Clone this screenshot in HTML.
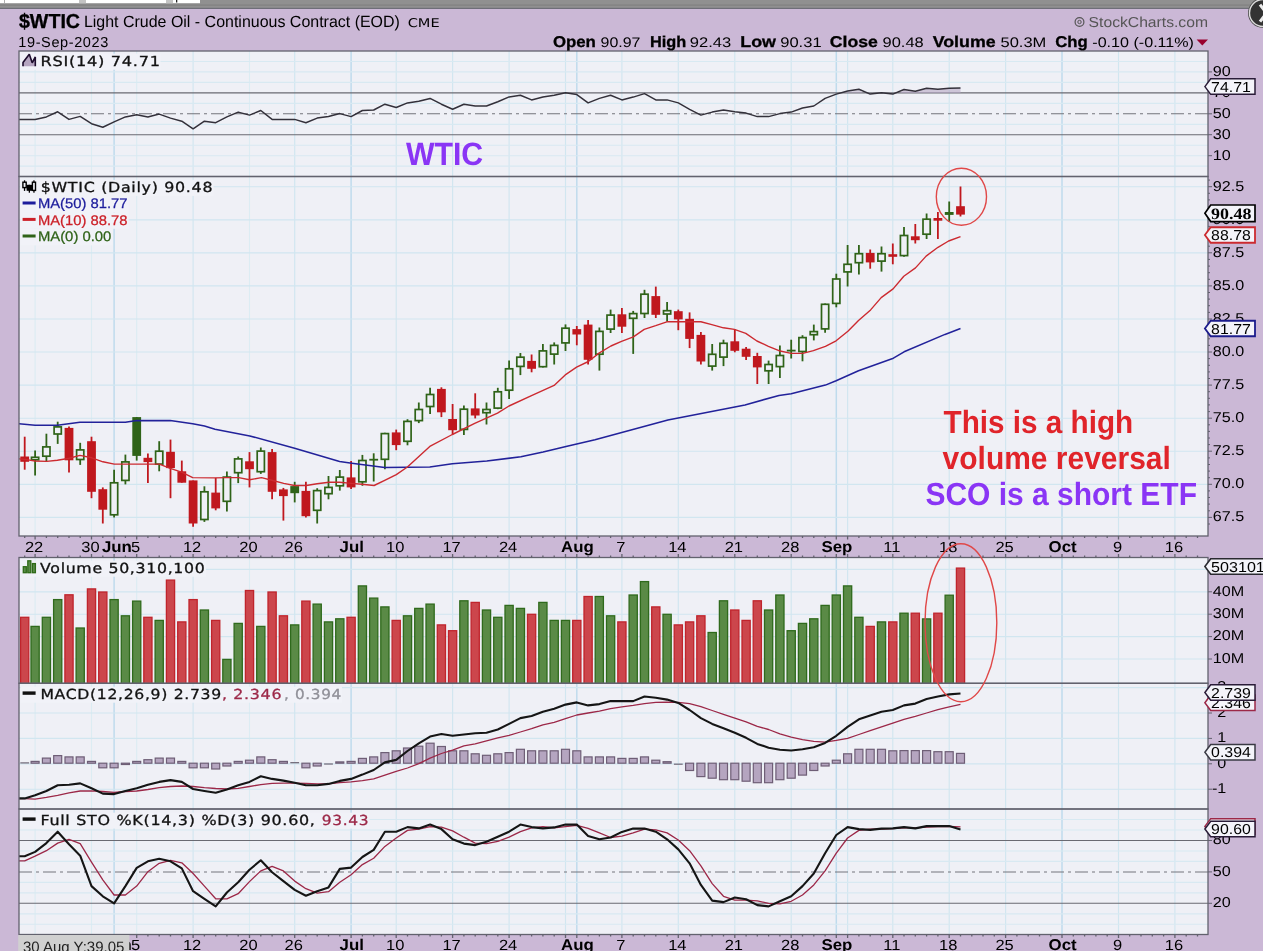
<!DOCTYPE html>
<html><head><meta charset="utf-8"><title>$WTIC Light Crude Oil - Continuous Contract (EOD)</title>
<style>html,body{margin:0;padding:0;background:#cbb8d6;overflow:hidden}svg text{text-rendering:geometricPrecision}</style></head>
<body>
<svg width="1263" height="951" viewBox="0 0 1263 951" style="display:block">
<rect x="0" y="0" width="1263" height="951" fill="#cbb8d6"/>
<rect x="0" y="0" width="1263" height="8.6" fill="#909090"/>
<rect x="0" y="4.6" width="1263" height="1" fill="#7e7e7e"/>
<rect x="0" y="7.8" width="1263" height="1.2" fill="#6e6e78"/>
<rect x="0" y="0" width="200" height="3.2" fill="#ffffff"/>
<rect x="4" y="0" width="1" height="3.2" fill="#b0b0b0"/>
<rect x="79" y="0" width="7" height="3.2" fill="#c4c4c4"/>
<rect x="166" y="0" width="7" height="3.2" fill="#c4c4c4"/>
<rect x="176" y="0" width="1.3" height="2.5" fill="#222"/>
<rect x="19.0" y="51.0" width="1189.0" height="485.0" fill="#eff0f6"/>
<rect x="19.0" y="557.5" width="1189.0" height="377.0" fill="#eff0f6"/>
<defs>
<clipPath id="cR"><rect x="19.0" y="51.0" width="1189.0" height="125.5"/></clipPath>
<clipPath id="cP"><rect x="19.0" y="176.5" width="1189.0" height="359.5"/></clipPath>
<clipPath id="cV"><rect x="19.0" y="557.5" width="1189.0" height="125.79999999999995"/></clipPath>
<clipPath id="cM"><rect x="19.0" y="683.3" width="1189.0" height="125.70000000000005"/></clipPath>
<clipPath id="cS"><rect x="19.0" y="809.0" width="1189.0" height="125.5"/></clipPath>
</defs>
<g><line x1="35.1" y1="51.0" x2="35.1" y2="536.0" stroke="#dcecf3" stroke-width="1.15"/><line x1="35.1" y1="557.5" x2="35.1" y2="934.5" stroke="#dcecf3" stroke-width="1.15"/><line x1="91.5" y1="51.0" x2="91.5" y2="536.0" stroke="#dcecf3" stroke-width="1.15"/><line x1="91.5" y1="557.5" x2="91.5" y2="934.5" stroke="#dcecf3" stroke-width="1.15"/><line x1="114.1" y1="51.0" x2="114.1" y2="536.0" stroke="#bfdbed" stroke-width="1.5"/><line x1="114.1" y1="557.5" x2="114.1" y2="934.5" stroke="#bfdbed" stroke-width="1.5"/><line x1="136.7" y1="51.0" x2="136.7" y2="536.0" stroke="#dcecf3" stroke-width="1.15"/><line x1="136.7" y1="557.5" x2="136.7" y2="934.5" stroke="#dcecf3" stroke-width="1.15"/><line x1="193.1" y1="51.0" x2="193.1" y2="536.0" stroke="#d1e6f0" stroke-width="1.15"/><line x1="193.1" y1="557.5" x2="193.1" y2="934.5" stroke="#d1e6f0" stroke-width="1.15"/><line x1="249.5" y1="51.0" x2="249.5" y2="536.0" stroke="#dcecf3" stroke-width="1.15"/><line x1="249.5" y1="557.5" x2="249.5" y2="934.5" stroke="#dcecf3" stroke-width="1.15"/><line x1="294.7" y1="51.0" x2="294.7" y2="536.0" stroke="#d1e6f0" stroke-width="1.15"/><line x1="294.7" y1="557.5" x2="294.7" y2="934.5" stroke="#d1e6f0" stroke-width="1.15"/><line x1="351.1" y1="51.0" x2="351.1" y2="536.0" stroke="#bfdbed" stroke-width="1.5"/><line x1="351.1" y1="557.5" x2="351.1" y2="934.5" stroke="#bfdbed" stroke-width="1.5"/><line x1="396.2" y1="51.0" x2="396.2" y2="536.0" stroke="#d1e6f0" stroke-width="1.15"/><line x1="396.2" y1="557.5" x2="396.2" y2="934.5" stroke="#d1e6f0" stroke-width="1.15"/><line x1="452.6" y1="51.0" x2="452.6" y2="536.0" stroke="#d1e6f0" stroke-width="1.15"/><line x1="452.6" y1="557.5" x2="452.6" y2="934.5" stroke="#d1e6f0" stroke-width="1.15"/><line x1="509.1" y1="51.0" x2="509.1" y2="536.0" stroke="#d1e6f0" stroke-width="1.15"/><line x1="509.1" y1="557.5" x2="509.1" y2="934.5" stroke="#d1e6f0" stroke-width="1.15"/><line x1="565.5" y1="51.0" x2="565.5" y2="536.0" stroke="#d1e6f0" stroke-width="1.15"/><line x1="565.5" y1="557.5" x2="565.5" y2="934.5" stroke="#d1e6f0" stroke-width="1.15"/><line x1="576.8" y1="51.0" x2="576.8" y2="536.0" stroke="#bfdbed" stroke-width="1.5"/><line x1="576.8" y1="557.5" x2="576.8" y2="934.5" stroke="#bfdbed" stroke-width="1.5"/><line x1="621.9" y1="51.0" x2="621.9" y2="536.0" stroke="#d1e6f0" stroke-width="1.15"/><line x1="621.9" y1="557.5" x2="621.9" y2="934.5" stroke="#d1e6f0" stroke-width="1.15"/><line x1="678.3" y1="51.0" x2="678.3" y2="536.0" stroke="#d1e6f0" stroke-width="1.15"/><line x1="678.3" y1="557.5" x2="678.3" y2="934.5" stroke="#d1e6f0" stroke-width="1.15"/><line x1="734.8" y1="51.0" x2="734.8" y2="536.0" stroke="#d1e6f0" stroke-width="1.15"/><line x1="734.8" y1="557.5" x2="734.8" y2="934.5" stroke="#d1e6f0" stroke-width="1.15"/><line x1="791.2" y1="51.0" x2="791.2" y2="536.0" stroke="#d1e6f0" stroke-width="1.15"/><line x1="791.2" y1="557.5" x2="791.2" y2="934.5" stroke="#d1e6f0" stroke-width="1.15"/><line x1="836.3" y1="51.0" x2="836.3" y2="536.0" stroke="#bfdbed" stroke-width="1.5"/><line x1="836.3" y1="557.5" x2="836.3" y2="934.5" stroke="#bfdbed" stroke-width="1.5"/><line x1="847.6" y1="51.0" x2="847.6" y2="536.0" stroke="#d1e6f0" stroke-width="1.15"/><line x1="847.6" y1="557.5" x2="847.6" y2="934.5" stroke="#d1e6f0" stroke-width="1.15"/><line x1="892.8" y1="51.0" x2="892.8" y2="536.0" stroke="#d1e6f0" stroke-width="1.15"/><line x1="892.8" y1="557.5" x2="892.8" y2="934.5" stroke="#d1e6f0" stroke-width="1.15"/><line x1="949.2" y1="51.0" x2="949.2" y2="536.0" stroke="#d1e6f0" stroke-width="1.15"/><line x1="949.2" y1="557.5" x2="949.2" y2="934.5" stroke="#d1e6f0" stroke-width="1.15"/><line x1="1005.6" y1="51.0" x2="1005.6" y2="536.0" stroke="#d1e6f0" stroke-width="1.15"/><line x1="1005.6" y1="557.5" x2="1005.6" y2="934.5" stroke="#d1e6f0" stroke-width="1.15"/><line x1="1062.0" y1="51.0" x2="1062.0" y2="536.0" stroke="#bfdbed" stroke-width="1.5"/><line x1="1062.0" y1="557.5" x2="1062.0" y2="934.5" stroke="#bfdbed" stroke-width="1.5"/><line x1="1118.5" y1="51.0" x2="1118.5" y2="536.0" stroke="#d1e6f0" stroke-width="1.15"/><line x1="1118.5" y1="557.5" x2="1118.5" y2="934.5" stroke="#d1e6f0" stroke-width="1.15"/><line x1="1174.9" y1="51.0" x2="1174.9" y2="536.0" stroke="#d1e6f0" stroke-width="1.15"/><line x1="1174.9" y1="557.5" x2="1174.9" y2="934.5" stroke="#d1e6f0" stroke-width="1.15"/><line x1="19.0" y1="166.1" x2="1208.0" y2="166.1" stroke="#d8e9f2" stroke-width="1.15"/><line x1="19.0" y1="155.7" x2="1208.0" y2="155.7" stroke="#d8e9f2" stroke-width="1.15"/><line x1="19.0" y1="145.2" x2="1208.0" y2="145.2" stroke="#d8e9f2" stroke-width="1.15"/><line x1="19.0" y1="124.3" x2="1208.0" y2="124.3" stroke="#d8e9f2" stroke-width="1.15"/><line x1="19.0" y1="103.3" x2="1208.0" y2="103.3" stroke="#d8e9f2" stroke-width="1.15"/><line x1="19.0" y1="82.4" x2="1208.0" y2="82.4" stroke="#d8e9f2" stroke-width="1.15"/><line x1="19.0" y1="71.9" x2="1208.0" y2="71.9" stroke="#d8e9f2" stroke-width="1.15"/><line x1="19.0" y1="61.5" x2="1208.0" y2="61.5" stroke="#d8e9f2" stroke-width="1.15"/><line x1="19.0" y1="517.4" x2="1208.0" y2="517.4" stroke="#d1e6f0" stroke-width="1.15"/><line x1="19.0" y1="484.3" x2="1208.0" y2="484.3" stroke="#d1e6f0" stroke-width="1.15"/><line x1="19.0" y1="451.2" x2="1208.0" y2="451.2" stroke="#d1e6f0" stroke-width="1.15"/><line x1="19.0" y1="418.2" x2="1208.0" y2="418.2" stroke="#d1e6f0" stroke-width="1.15"/><line x1="19.0" y1="385.1" x2="1208.0" y2="385.1" stroke="#d1e6f0" stroke-width="1.15"/><line x1="19.0" y1="352.0" x2="1208.0" y2="352.0" stroke="#d1e6f0" stroke-width="1.15"/><line x1="19.0" y1="319.0" x2="1208.0" y2="319.0" stroke="#d1e6f0" stroke-width="1.15"/><line x1="19.0" y1="285.9" x2="1208.0" y2="285.9" stroke="#d1e6f0" stroke-width="1.15"/><line x1="19.0" y1="252.8" x2="1208.0" y2="252.8" stroke="#d1e6f0" stroke-width="1.15"/><line x1="19.0" y1="219.8" x2="1208.0" y2="219.8" stroke="#d1e6f0" stroke-width="1.15"/><line x1="19.0" y1="186.7" x2="1208.0" y2="186.7" stroke="#d1e6f0" stroke-width="1.15"/><line x1="19.0" y1="659.0" x2="1208.0" y2="659.0" stroke="#d1e6f0" stroke-width="1.15"/><line x1="19.0" y1="636.6" x2="1208.0" y2="636.6" stroke="#d1e6f0" stroke-width="1.15"/><line x1="19.0" y1="614.2" x2="1208.0" y2="614.2" stroke="#d1e6f0" stroke-width="1.15"/><line x1="19.0" y1="591.8" x2="1208.0" y2="591.8" stroke="#d1e6f0" stroke-width="1.15"/><line x1="19.0" y1="569.4" x2="1208.0" y2="569.4" stroke="#d1e6f0" stroke-width="1.15"/><line x1="19.0" y1="789.2" x2="1208.0" y2="789.2" stroke="#d1e6f0" stroke-width="1.15"/><line x1="19.0" y1="763.8" x2="1208.0" y2="763.8" stroke="#d1e6f0" stroke-width="1.15"/><line x1="19.0" y1="738.4" x2="1208.0" y2="738.4" stroke="#d1e6f0" stroke-width="1.15"/><line x1="19.0" y1="713.0" x2="1208.0" y2="713.0" stroke="#d1e6f0" stroke-width="1.15"/><line x1="19.0" y1="687.6" x2="1208.0" y2="687.6" stroke="#d1e6f0" stroke-width="1.15"/><line x1="19.0" y1="924.2" x2="1208.0" y2="924.2" stroke="#d8e9f2" stroke-width="1.15"/><line x1="19.0" y1="913.8" x2="1208.0" y2="913.8" stroke="#d8e9f2" stroke-width="1.15"/><line x1="19.0" y1="892.8" x2="1208.0" y2="892.8" stroke="#d8e9f2" stroke-width="1.15"/><line x1="19.0" y1="882.4" x2="1208.0" y2="882.4" stroke="#d8e9f2" stroke-width="1.15"/><line x1="19.0" y1="861.4" x2="1208.0" y2="861.4" stroke="#d8e9f2" stroke-width="1.15"/><line x1="19.0" y1="851.0" x2="1208.0" y2="851.0" stroke="#d8e9f2" stroke-width="1.15"/><line x1="19.0" y1="830.0" x2="1208.0" y2="830.0" stroke="#d8e9f2" stroke-width="1.15"/><line x1="19.0" y1="819.5" x2="1208.0" y2="819.5" stroke="#d8e9f2" stroke-width="1.15"/></g>
<line x1="19.0" y1="134.7" x2="1208.0" y2="134.7" stroke="#6a6a72" stroke-width="1.1"/>
<line x1="19.0" y1="92.9" x2="1208.0" y2="92.9" stroke="#6a6a72" stroke-width="1.1"/>
<line x1="19.0" y1="113.8" x2="1208.0" y2="113.8" stroke="#74747c" stroke-width="1.05" stroke-dasharray="13 4 3 4"/>
<line x1="19.0" y1="903.3" x2="1208.0" y2="903.3" stroke="#6a6a72" stroke-width="1.1"/>
<line x1="19.0" y1="840.5" x2="1208.0" y2="840.5" stroke="#6a6a72" stroke-width="1.1"/>
<line x1="19.0" y1="871.9" x2="1208.0" y2="871.9" stroke="#74747c" stroke-width="1.05" stroke-dasharray="13 4 3 4"/>
<g clip-path="url(#cR)">
<polygon points="561.5,92.9 565.5,92.8 569.5,92.9" fill="#b8a8c4" opacity="0.45"/>
<polygon points="843.6,92.9 847.6,91.0 858.9,89.3 862.9,92.9" fill="#b8a8c4" opacity="0.45"/>
<polygon points="877.5,92.9 881.5,92.8 885.5,92.9" fill="#b8a8c4" opacity="0.45"/>
<polygon points="900.0,92.9 904.0,89.5 915.3,91.3 926.6,88.2 937.9,89.3 949.2,88.2 960.5,88.0 960.5,92.9" fill="#b8a8c4" opacity="0.6"/>
</g>
<polyline points="19.0,119.4 24.7,119.4 35.1,119.4 46.4,116.9 57.7,111.8 69.0,119.4 80.2,116.4 91.5,123.7 102.8,127.3 114.1,121.9 125.4,116.9 136.7,114.8 147.9,116.9 159.2,114.1 170.5,118.1 181.8,121.2 193.1,128.8 204.4,121.2 215.7,122.7 226.9,116.9 238.2,112.1 249.5,115.1 260.8,110.5 272.1,119.4 283.4,119.4 294.7,119.4 305.9,122.7 317.2,118.1 328.5,116.4 339.8,113.6 351.1,116.6 362.4,110.5 373.7,110.0 384.9,104.2 396.2,107.5 407.5,102.9 418.8,101.2 430.1,98.4 441.4,104.2 452.6,109.3 463.9,104.2 475.2,106.0 486.5,106.0 497.8,101.7 509.1,96.9 520.4,95.3 531.6,99.9 542.9,97.1 554.2,95.3 565.5,92.8 576.8,94.6 588.1,102.9 599.4,98.4 610.6,95.3 621.9,99.9 633.2,97.1 644.5,93.6 655.8,99.9 667.1,99.9 678.3,102.9 689.6,109.3 700.9,115.1 712.2,112.1 723.5,110.0 734.8,111.8 746.1,113.1 757.3,116.6 768.6,116.6 779.9,113.6 791.2,112.1 802.5,108.0 813.8,106.0 825.1,98.4 836.3,94.1 847.6,91.0 858.9,89.3 870.2,94.1 881.5,92.8 892.8,94.1 904.0,89.5 915.3,91.3 926.6,88.2 937.9,89.3 949.2,88.2 960.5,88.0" fill="none" stroke="#33303a" stroke-width="1.5" stroke-linejoin="round" clip-path="url(#cR)" />
<g clip-path="url(#cP)"><line x1="24.7" y1="436.7" x2="24.7" y2="469.7" stroke="#c0181e" stroke-width="1.8"/><rect x="20.3" y="456.5" width="8.8" height="5.3" fill="#c0181e"/><line x1="35.1" y1="450.4" x2="35.1" y2="475.5" stroke="#2f6318" stroke-width="1.8"/><rect x="31.5" y="457.3" width="7.2" height="2.5" fill="#eff0f6" stroke="#2f6318" stroke-width="1.7"/><line x1="46.4" y1="433.7" x2="46.4" y2="461.0" stroke="#2f6318" stroke-width="1.8"/><rect x="42.8" y="446.9" width="7.2" height="9.3" fill="#eff0f6" stroke="#2f6318" stroke-width="1.7"/><line x1="57.7" y1="421.7" x2="57.7" y2="443.9" stroke="#2f6318" stroke-width="1.8"/><rect x="54.1" y="426.9" width="7.2" height="7.1" fill="#eff0f6" stroke="#2f6318" stroke-width="1.7"/><line x1="69.0" y1="426.6" x2="69.0" y2="472.5" stroke="#c0181e" stroke-width="1.8"/><rect x="64.6" y="427.9" width="8.8" height="32.4" fill="#c0181e"/><line x1="80.2" y1="442.8" x2="80.2" y2="464.9" stroke="#2f6318" stroke-width="1.8"/><rect x="76.6" y="449.9" width="7.2" height="9.6" fill="#eff0f6" stroke="#2f6318" stroke-width="1.7"/><line x1="91.5" y1="436.7" x2="91.5" y2="498.2" stroke="#c0181e" stroke-width="1.8"/><rect x="87.1" y="441.2" width="8.8" height="50.6" fill="#c0181e"/><line x1="102.8" y1="487.4" x2="102.8" y2="523.5" stroke="#c0181e" stroke-width="1.8"/><rect x="98.4" y="489.2" width="8.8" height="20.5" fill="#c0181e"/><line x1="114.1" y1="469.7" x2="114.1" y2="517.5" stroke="#2f6318" stroke-width="1.8"/><rect x="110.5" y="482.8" width="7.2" height="32.0" fill="#eff0f6" stroke="#2f6318" stroke-width="1.7"/><line x1="125.4" y1="454.6" x2="125.4" y2="484.4" stroke="#2f6318" stroke-width="1.8"/><rect x="121.8" y="461.9" width="7.2" height="18.5" fill="#eff0f6" stroke="#2f6318" stroke-width="1.7"/><line x1="136.7" y1="417.1" x2="136.7" y2="460.6" stroke="#2f6318" stroke-width="1.8"/><rect x="132.3" y="417.1" width="8.8" height="38.8" fill="#2f6318"/><line x1="147.9" y1="453.4" x2="147.9" y2="483.1" stroke="#c0181e" stroke-width="1.8"/><rect x="143.5" y="457.8" width="8.8" height="4.3" fill="#c0181e"/><line x1="159.2" y1="441.2" x2="159.2" y2="471.3" stroke="#2f6318" stroke-width="1.8"/><rect x="155.6" y="451.2" width="7.2" height="12.9" fill="#eff0f6" stroke="#2f6318" stroke-width="1.7"/><line x1="170.5" y1="439.6" x2="170.5" y2="498.2" stroke="#c0181e" stroke-width="1.8"/><rect x="166.1" y="451.8" width="8.8" height="16.3" fill="#c0181e"/><line x1="181.8" y1="460.6" x2="181.8" y2="482.7" stroke="#c0181e" stroke-width="1.8"/><rect x="177.4" y="471.3" width="8.8" height="11.4" fill="#c0181e"/><line x1="193.1" y1="480.4" x2="193.1" y2="526.7" stroke="#c0181e" stroke-width="1.8"/><rect x="188.7" y="480.4" width="8.8" height="43.1" fill="#c0181e"/><line x1="204.4" y1="486.3" x2="204.4" y2="521.9" stroke="#2f6318" stroke-width="1.8"/><rect x="200.8" y="491.8" width="7.2" height="27.7" fill="#eff0f6" stroke="#2f6318" stroke-width="1.7"/><line x1="215.7" y1="477.9" x2="215.7" y2="510.3" stroke="#c0181e" stroke-width="1.8"/><rect x="211.3" y="492.6" width="8.8" height="15.8" fill="#c0181e"/><line x1="226.9" y1="471.6" x2="226.9" y2="511.6" stroke="#2f6318" stroke-width="1.8"/><rect x="223.3" y="477.1" width="7.2" height="24.2" fill="#eff0f6" stroke="#2f6318" stroke-width="1.7"/><line x1="238.2" y1="456.5" x2="238.2" y2="483.1" stroke="#2f6318" stroke-width="1.8"/><rect x="234.6" y="458.9" width="7.2" height="13.8" fill="#eff0f6" stroke="#2f6318" stroke-width="1.7"/><line x1="249.5" y1="452.1" x2="249.5" y2="487.4" stroke="#c0181e" stroke-width="1.8"/><rect x="245.1" y="461.3" width="8.8" height="7.9" fill="#c0181e"/><line x1="260.8" y1="447.5" x2="260.8" y2="473.9" stroke="#2f6318" stroke-width="1.8"/><rect x="257.2" y="451.1" width="7.2" height="20.6" fill="#eff0f6" stroke="#2f6318" stroke-width="1.7"/><line x1="272.1" y1="448.9" x2="272.1" y2="499.3" stroke="#c0181e" stroke-width="1.8"/><rect x="267.7" y="452.1" width="8.8" height="39.7" fill="#c0181e"/><line x1="283.4" y1="487.9" x2="283.4" y2="520.6" stroke="#c0181e" stroke-width="1.8"/><rect x="279.0" y="489.4" width="8.8" height="6.7" fill="#c0181e"/><line x1="294.7" y1="481.8" x2="294.7" y2="502.4" stroke="#2f6318" stroke-width="1.8"/><rect x="290.3" y="486.1" width="8.8" height="7.1" fill="#2f6318"/><line x1="305.9" y1="481.8" x2="305.9" y2="517.5" stroke="#c0181e" stroke-width="1.8"/><rect x="301.5" y="490.9" width="8.8" height="25.3" fill="#c0181e"/><line x1="317.2" y1="488.2" x2="317.2" y2="523.5" stroke="#2f6318" stroke-width="1.8"/><rect x="313.6" y="490.6" width="7.2" height="19.7" fill="#eff0f6" stroke="#2f6318" stroke-width="1.7"/><line x1="328.5" y1="476.0" x2="328.5" y2="499.3" stroke="#2f6318" stroke-width="1.8"/><rect x="324.9" y="487.4" width="7.2" height="6.3" fill="#eff0f6" stroke="#2f6318" stroke-width="1.7"/><line x1="339.8" y1="470.0" x2="339.8" y2="490.6" stroke="#2f6318" stroke-width="1.8"/><rect x="336.2" y="477.1" width="7.2" height="8.7" fill="#eff0f6" stroke="#2f6318" stroke-width="1.7"/><line x1="351.1" y1="460.9" x2="351.1" y2="489.0" stroke="#c0181e" stroke-width="1.8"/><rect x="346.7" y="477.4" width="8.8" height="10.0" fill="#c0181e"/><line x1="362.4" y1="454.9" x2="362.4" y2="485.8" stroke="#2f6318" stroke-width="1.8"/><rect x="358.8" y="460.5" width="7.2" height="21.3" fill="#eff0f6" stroke="#2f6318" stroke-width="1.7"/><line x1="373.7" y1="453.3" x2="373.7" y2="481.5" stroke="#2f6318" stroke-width="1.8"/><rect x="369.3" y="458.8" width="8.8" height="1.8" fill="#2f6318"/><line x1="384.9" y1="432.8" x2="384.9" y2="469.2" stroke="#2f6318" stroke-width="1.8"/><rect x="381.3" y="433.6" width="7.2" height="25.7" fill="#eff0f6" stroke="#2f6318" stroke-width="1.7"/><line x1="396.2" y1="429.6" x2="396.2" y2="450.2" stroke="#c0181e" stroke-width="1.8"/><rect x="391.8" y="432.4" width="8.8" height="12.7" fill="#c0181e"/><line x1="407.5" y1="419.2" x2="407.5" y2="445.3" stroke="#2f6318" stroke-width="1.8"/><rect x="403.9" y="421.4" width="7.2" height="19.9" fill="#eff0f6" stroke="#2f6318" stroke-width="1.7"/><line x1="418.8" y1="402.5" x2="418.8" y2="423.1" stroke="#2f6318" stroke-width="1.8"/><rect x="415.2" y="409.5" width="7.2" height="11.1" fill="#eff0f6" stroke="#2f6318" stroke-width="1.7"/><line x1="430.1" y1="387.8" x2="430.1" y2="413.9" stroke="#2f6318" stroke-width="1.8"/><rect x="426.5" y="394.5" width="7.2" height="12.0" fill="#eff0f6" stroke="#2f6318" stroke-width="1.7"/><line x1="441.4" y1="387.3" x2="441.4" y2="417.1" stroke="#c0181e" stroke-width="1.8"/><rect x="437.0" y="388.9" width="8.8" height="23.4" fill="#c0181e"/><line x1="452.6" y1="404.0" x2="452.6" y2="434.5" stroke="#c0181e" stroke-width="1.8"/><rect x="448.2" y="419.0" width="8.8" height="11.2" fill="#c0181e"/><line x1="463.9" y1="405.5" x2="463.9" y2="435.0" stroke="#2f6318" stroke-width="1.8"/><rect x="460.3" y="409.2" width="7.2" height="20.2" fill="#eff0f6" stroke="#2f6318" stroke-width="1.7"/><line x1="475.2" y1="393.3" x2="475.2" y2="418.4" stroke="#c0181e" stroke-width="1.8"/><rect x="470.8" y="408.4" width="8.8" height="7.1" fill="#c0181e"/><line x1="486.5" y1="402.5" x2="486.5" y2="424.5" stroke="#2f6318" stroke-width="1.8"/><rect x="482.9" y="409.5" width="7.2" height="3.2" fill="#eff0f6" stroke="#2f6318" stroke-width="1.7"/><line x1="497.8" y1="387.8" x2="497.8" y2="409.2" stroke="#2f6318" stroke-width="1.8"/><rect x="494.2" y="391.8" width="7.2" height="16.3" fill="#eff0f6" stroke="#2f6318" stroke-width="1.7"/><line x1="509.1" y1="360.4" x2="509.1" y2="398.9" stroke="#2f6318" stroke-width="1.8"/><rect x="505.5" y="368.8" width="7.2" height="21.4" fill="#eff0f6" stroke="#2f6318" stroke-width="1.7"/><line x1="520.4" y1="353.0" x2="520.4" y2="375.1" stroke="#2f6318" stroke-width="1.8"/><rect x="516.8" y="357.2" width="7.2" height="9.2" fill="#eff0f6" stroke="#2f6318" stroke-width="1.7"/><line x1="531.6" y1="354.5" x2="531.6" y2="372.3" stroke="#c0181e" stroke-width="1.8"/><rect x="527.2" y="360.9" width="8.8" height="7.9" fill="#c0181e"/><line x1="542.9" y1="343.9" x2="542.9" y2="367.5" stroke="#2f6318" stroke-width="1.8"/><rect x="539.3" y="350.9" width="7.2" height="15.8" fill="#eff0f6" stroke="#2f6318" stroke-width="1.7"/><line x1="554.2" y1="342.4" x2="554.2" y2="364.5" stroke="#2f6318" stroke-width="1.8"/><rect x="550.6" y="345.4" width="7.2" height="8.7" fill="#eff0f6" stroke="#2f6318" stroke-width="1.7"/><line x1="565.5" y1="324.4" x2="565.5" y2="351.0" stroke="#2f6318" stroke-width="1.8"/><rect x="561.9" y="328.2" width="7.2" height="14.7" fill="#eff0f6" stroke="#2f6318" stroke-width="1.7"/><line x1="576.8" y1="326.0" x2="576.8" y2="345.3" stroke="#c0181e" stroke-width="1.8"/><rect x="572.4" y="329.1" width="8.8" height="5.4" fill="#c0181e"/><line x1="588.1" y1="320.0" x2="588.1" y2="364.5" stroke="#c0181e" stroke-width="1.8"/><rect x="583.7" y="324.6" width="8.8" height="35.2" fill="#c0181e"/><line x1="599.4" y1="327.5" x2="599.4" y2="370.6" stroke="#2f6318" stroke-width="1.8"/><rect x="595.8" y="331.4" width="7.2" height="22.8" fill="#eff0f6" stroke="#2f6318" stroke-width="1.7"/><line x1="610.6" y1="309.6" x2="610.6" y2="333.0" stroke="#2f6318" stroke-width="1.8"/><rect x="607.0" y="315.1" width="7.2" height="14.0" fill="#eff0f6" stroke="#2f6318" stroke-width="1.7"/><line x1="621.9" y1="308.0" x2="621.9" y2="332.9" stroke="#c0181e" stroke-width="1.8"/><rect x="617.5" y="314.3" width="8.8" height="12.4" fill="#c0181e"/><line x1="633.2" y1="310.9" x2="633.2" y2="353.9" stroke="#2f6318" stroke-width="1.8"/><rect x="629.6" y="313.6" width="7.2" height="4.7" fill="#eff0f6" stroke="#2f6318" stroke-width="1.7"/><line x1="644.5" y1="289.8" x2="644.5" y2="318.0" stroke="#2f6318" stroke-width="1.8"/><rect x="640.9" y="294.2" width="7.2" height="19.3" fill="#eff0f6" stroke="#2f6318" stroke-width="1.7"/><line x1="655.8" y1="286.6" x2="655.8" y2="318.0" stroke="#c0181e" stroke-width="1.8"/><rect x="651.4" y="296.1" width="8.8" height="18.7" fill="#c0181e"/><line x1="667.1" y1="302.0" x2="667.1" y2="321.5" stroke="#2f6318" stroke-width="1.8"/><rect x="663.5" y="310.7" width="7.2" height="3.3" fill="#eff0f6" stroke="#2f6318" stroke-width="1.7"/><line x1="678.3" y1="309.6" x2="678.3" y2="330.2" stroke="#c0181e" stroke-width="1.8"/><rect x="673.9" y="311.2" width="8.8" height="8.2" fill="#c0181e"/><line x1="689.6" y1="312.4" x2="689.6" y2="348.1" stroke="#c0181e" stroke-width="1.8"/><rect x="685.2" y="318.8" width="8.8" height="20.1" fill="#c0181e"/><line x1="700.9" y1="332.1" x2="700.9" y2="364.5" stroke="#c0181e" stroke-width="1.8"/><rect x="696.5" y="334.9" width="8.8" height="26.6" fill="#c0181e"/><line x1="712.2" y1="344.0" x2="712.2" y2="370.6" stroke="#2f6318" stroke-width="1.8"/><rect x="708.6" y="354.3" width="7.2" height="11.8" fill="#eff0f6" stroke="#2f6318" stroke-width="1.7"/><line x1="723.5" y1="339.7" x2="723.5" y2="366.1" stroke="#2f6318" stroke-width="1.8"/><rect x="719.9" y="343.3" width="7.2" height="13.8" fill="#eff0f6" stroke="#2f6318" stroke-width="1.7"/><line x1="734.8" y1="329.1" x2="734.8" y2="352.3" stroke="#c0181e" stroke-width="1.8"/><rect x="730.4" y="341.3" width="8.8" height="9.5" fill="#c0181e"/><line x1="746.1" y1="347.1" x2="746.1" y2="359.9" stroke="#c0181e" stroke-width="1.8"/><rect x="741.7" y="348.7" width="8.8" height="8.1" fill="#c0181e"/><line x1="757.3" y1="352.8" x2="757.3" y2="384.0" stroke="#c0181e" stroke-width="1.8"/><rect x="752.9" y="356.0" width="8.8" height="11.4" fill="#c0181e"/><line x1="768.6" y1="360.6" x2="768.6" y2="384.0" stroke="#2f6318" stroke-width="1.8"/><rect x="765.0" y="364.5" width="7.2" height="6.3" fill="#eff0f6" stroke="#2f6318" stroke-width="1.7"/><line x1="779.9" y1="345.5" x2="779.9" y2="378.0" stroke="#2f6318" stroke-width="1.8"/><rect x="776.3" y="355.5" width="7.2" height="11.1" fill="#eff0f6" stroke="#2f6318" stroke-width="1.7"/><line x1="791.2" y1="339.7" x2="791.2" y2="358.5" stroke="#2f6318" stroke-width="1.8"/><rect x="786.8" y="349.7" width="8.8" height="1.8" fill="#2f6318"/><line x1="802.5" y1="335.2" x2="802.5" y2="361.3" stroke="#2f6318" stroke-width="1.8"/><rect x="798.9" y="337.6" width="7.2" height="13.9" fill="#eff0f6" stroke="#2f6318" stroke-width="1.7"/><line x1="813.8" y1="324.6" x2="813.8" y2="340.4" stroke="#2f6318" stroke-width="1.8"/><rect x="810.2" y="331.6" width="7.2" height="3.1" fill="#eff0f6" stroke="#2f6318" stroke-width="1.7"/><line x1="825.1" y1="303.5" x2="825.1" y2="332.8" stroke="#2f6318" stroke-width="1.8"/><rect x="821.5" y="304.3" width="7.2" height="24.6" fill="#eff0f6" stroke="#2f6318" stroke-width="1.7"/><line x1="836.3" y1="273.7" x2="836.3" y2="307.3" stroke="#2f6318" stroke-width="1.8"/><rect x="832.7" y="279.0" width="7.2" height="24.4" fill="#eff0f6" stroke="#2f6318" stroke-width="1.7"/><line x1="847.6" y1="245.0" x2="847.6" y2="286.5" stroke="#2f6318" stroke-width="1.8"/><rect x="844.0" y="264.3" width="7.2" height="7.6" fill="#eff0f6" stroke="#2f6318" stroke-width="1.7"/><line x1="858.9" y1="245.0" x2="858.9" y2="274.6" stroke="#2f6318" stroke-width="1.8"/><rect x="855.3" y="253.7" width="7.2" height="9.0" fill="#eff0f6" stroke="#2f6318" stroke-width="1.7"/><line x1="870.2" y1="249.4" x2="870.2" y2="268.7" stroke="#c0181e" stroke-width="1.8"/><rect x="865.8" y="252.9" width="8.8" height="9.5" fill="#c0181e"/><line x1="881.5" y1="246.6" x2="881.5" y2="271.6" stroke="#2f6318" stroke-width="1.8"/><rect x="877.9" y="253.7" width="7.2" height="7.4" fill="#eff0f6" stroke="#2f6318" stroke-width="1.7"/><line x1="892.8" y1="243.4" x2="892.8" y2="264.3" stroke="#c0181e" stroke-width="1.8"/><rect x="888.4" y="254.2" width="8.8" height="2.6" fill="#c0181e"/><line x1="904.0" y1="227.1" x2="904.0" y2="256.8" stroke="#2f6318" stroke-width="1.8"/><rect x="900.4" y="235.5" width="7.2" height="20.1" fill="#eff0f6" stroke="#2f6318" stroke-width="1.7"/><line x1="915.3" y1="224.1" x2="915.3" y2="243.4" stroke="#c0181e" stroke-width="1.8"/><rect x="910.9" y="236.3" width="8.8" height="3.9" fill="#c0181e"/><line x1="926.6" y1="213.6" x2="926.6" y2="239.0" stroke="#2f6318" stroke-width="1.8"/><rect x="923.0" y="219.2" width="7.2" height="15.0" fill="#eff0f6" stroke="#2f6318" stroke-width="1.7"/><line x1="937.9" y1="212.0" x2="937.9" y2="239.0" stroke="#c0181e" stroke-width="1.8"/><rect x="933.5" y="218.0" width="8.8" height="2.7" fill="#c0181e"/><line x1="949.2" y1="201.4" x2="949.2" y2="222.0" stroke="#2f6318" stroke-width="1.8"/><rect x="944.8" y="212.0" width="8.8" height="2.9" fill="#2f6318"/><line x1="960.5" y1="186.4" x2="960.5" y2="216.5" stroke="#c0181e" stroke-width="1.8"/><rect x="956.1" y="206.2" width="8.8" height="8.4" fill="#c0181e"/></g>
<polyline points="18.8,423.8 35.1,425.3 57.4,425.3 79.9,422.2 125.4,422.2 136.8,420.6 170.2,420.6 192.7,423.8 204.5,426.1 215.0,429.3 249.8,435.9 294.6,448.3 339.6,461.6 351.8,463.2 384.7,467.4 429.8,467.0 452.3,463.8 486.8,461.1 520.9,456.7 543.1,451.9 566.0,446.4 595.0,439.7 667.9,420.0 734.8,407.0 745.0,404.9 779.0,395.4 791.2,393.8 825.4,385.1 836.1,380.7 858.5,370.8 893.4,358.2 904.1,351.8 945.0,334.4 960.5,328.6" fill="none" stroke="#22229a" stroke-width="1.55" stroke-linejoin="round" clip-path="url(#cP)"/>
<polyline points="18.8,458.9 24.8,459.4 35.1,461.0 46.7,461.4 57.4,460.2 69.3,458.3 79.9,455.4 91.8,457.8 102.9,461.8 114.3,464.1 136.8,464.1 159.4,464.1 170.2,468.4 181.6,472.1 192.7,477.6 215.0,477.9 226.9,477.6 238.7,477.6 249.5,479.8 261.5,477.6 271.8,480.3 283.7,483.4 294.5,485.5 306.3,485.5 317.1,483.7 329.0,482.2 339.6,482.2 351.5,483.4 361.8,484.2 374.1,485.5 384.7,480.3 396.3,474.7 407.4,467.0 429.8,446.4 452.3,434.5 474.7,423.4 497.5,413.1 509.0,406.0 531.5,395.7 554.1,385.4 566.0,374.3 576.6,367.2 588.4,361.5 599.0,353.1 610.9,346.0 621.5,341.3 633.4,336.8 644.2,329.4 655.7,325.7 666.8,321.8 678.4,321.8 689.3,321.8 700.9,321.8 711.8,324.6 723.4,327.8 734.4,329.4 745.8,333.3 756.9,341.0 768.4,346.3 779.0,350.7 791.2,353.4 802.8,353.4 813.4,350.6 825.4,346.3 836.1,340.8 847.9,331.3 858.5,320.6 870.6,309.9 881.2,297.6 893.1,288.9 903.8,276.2 915.5,267.9 926.1,256.1 938.0,247.3 948.6,241.0 960.5,236.6" fill="none" stroke="#cc2a30" stroke-width="1.4" stroke-linejoin="round" clip-path="url(#cP)"/>
<g clip-path="url(#cV)"><rect x="20.6" y="617.3" width="8.2" height="66.6" fill="#cc464c" stroke="#c0242c" stroke-width="1.3"/><rect x="31.0" y="626.4" width="8.2" height="57.5" fill="#5a8a46" stroke="#2f6a1c" stroke-width="1.3"/><rect x="42.3" y="617.3" width="8.2" height="66.6" fill="#5a8a46" stroke="#2f6a1c" stroke-width="1.3"/><rect x="53.6" y="599.6" width="8.2" height="84.3" fill="#5a8a46" stroke="#2f6a1c" stroke-width="1.3"/><rect x="64.9" y="594.8" width="8.2" height="89.1" fill="#cc464c" stroke="#c0242c" stroke-width="1.3"/><rect x="76.1" y="628.0" width="8.2" height="55.9" fill="#5a8a46" stroke="#2f6a1c" stroke-width="1.3"/><rect x="87.4" y="588.9" width="8.2" height="95.0" fill="#cc464c" stroke="#c0242c" stroke-width="1.3"/><rect x="98.7" y="592.0" width="8.2" height="91.9" fill="#cc464c" stroke="#c0242c" stroke-width="1.3"/><rect x="110.0" y="599.6" width="8.2" height="84.3" fill="#5a8a46" stroke="#2f6a1c" stroke-width="1.3"/><rect x="121.3" y="615.8" width="8.2" height="68.1" fill="#5a8a46" stroke="#2f6a1c" stroke-width="1.3"/><rect x="132.6" y="601.1" width="8.2" height="82.8" fill="#5a8a46" stroke="#2f6a1c" stroke-width="1.3"/><rect x="143.8" y="617.3" width="8.2" height="66.6" fill="#cc464c" stroke="#c0242c" stroke-width="1.3"/><rect x="155.1" y="620.4" width="8.2" height="63.5" fill="#5a8a46" stroke="#2f6a1c" stroke-width="1.3"/><rect x="166.4" y="580.1" width="8.2" height="103.8" fill="#cc464c" stroke="#c0242c" stroke-width="1.3"/><rect x="177.7" y="621.9" width="8.2" height="62.0" fill="#cc464c" stroke="#c0242c" stroke-width="1.3"/><rect x="189.0" y="599.6" width="8.2" height="84.3" fill="#cc464c" stroke="#c0242c" stroke-width="1.3"/><rect x="200.3" y="610.0" width="8.2" height="73.9" fill="#5a8a46" stroke="#2f6a1c" stroke-width="1.3"/><rect x="211.6" y="620.4" width="8.2" height="63.5" fill="#cc464c" stroke="#c0242c" stroke-width="1.3"/><rect x="222.8" y="659.4" width="8.2" height="24.5" fill="#5a8a46" stroke="#2f6a1c" stroke-width="1.3"/><rect x="234.1" y="623.4" width="8.2" height="60.5" fill="#5a8a46" stroke="#2f6a1c" stroke-width="1.3"/><rect x="245.4" y="590.5" width="8.2" height="93.4" fill="#cc464c" stroke="#c0242c" stroke-width="1.3"/><rect x="256.7" y="626.4" width="8.2" height="57.5" fill="#5a8a46" stroke="#2f6a1c" stroke-width="1.3"/><rect x="268.0" y="592.0" width="8.2" height="91.9" fill="#cc464c" stroke="#c0242c" stroke-width="1.3"/><rect x="279.3" y="615.8" width="8.2" height="68.1" fill="#cc464c" stroke="#c0242c" stroke-width="1.3"/><rect x="290.6" y="624.9" width="8.2" height="59.0" fill="#5a8a46" stroke="#2f6a1c" stroke-width="1.3"/><rect x="301.8" y="601.1" width="8.2" height="82.8" fill="#cc464c" stroke="#c0242c" stroke-width="1.3"/><rect x="313.1" y="604.1" width="8.2" height="79.8" fill="#5a8a46" stroke="#2f6a1c" stroke-width="1.3"/><rect x="324.4" y="621.9" width="8.2" height="62.0" fill="#5a8a46" stroke="#2f6a1c" stroke-width="1.3"/><rect x="335.7" y="618.8" width="8.2" height="65.1" fill="#5a8a46" stroke="#2f6a1c" stroke-width="1.3"/><rect x="347.0" y="617.3" width="8.2" height="66.6" fill="#cc464c" stroke="#c0242c" stroke-width="1.3"/><rect x="358.3" y="585.9" width="8.2" height="98.0" fill="#5a8a46" stroke="#2f6a1c" stroke-width="1.3"/><rect x="369.6" y="598.1" width="8.2" height="85.8" fill="#5a8a46" stroke="#2f6a1c" stroke-width="1.3"/><rect x="380.8" y="606.9" width="8.2" height="77.0" fill="#5a8a46" stroke="#2f6a1c" stroke-width="1.3"/><rect x="392.1" y="620.4" width="8.2" height="63.5" fill="#cc464c" stroke="#c0242c" stroke-width="1.3"/><rect x="403.4" y="615.8" width="8.2" height="68.1" fill="#5a8a46" stroke="#2f6a1c" stroke-width="1.3"/><rect x="414.7" y="608.4" width="8.2" height="75.5" fill="#5a8a46" stroke="#2f6a1c" stroke-width="1.3"/><rect x="426.0" y="604.1" width="8.2" height="79.8" fill="#5a8a46" stroke="#2f6a1c" stroke-width="1.3"/><rect x="437.3" y="624.9" width="8.2" height="59.0" fill="#cc464c" stroke="#c0242c" stroke-width="1.3"/><rect x="448.5" y="630.7" width="8.2" height="53.2" fill="#cc464c" stroke="#c0242c" stroke-width="1.3"/><rect x="459.8" y="600.8" width="8.2" height="83.1" fill="#5a8a46" stroke="#2f6a1c" stroke-width="1.3"/><rect x="471.1" y="602.4" width="8.2" height="81.5" fill="#cc464c" stroke="#c0242c" stroke-width="1.3"/><rect x="482.4" y="610.0" width="8.2" height="73.9" fill="#5a8a46" stroke="#2f6a1c" stroke-width="1.3"/><rect x="493.7" y="617.3" width="8.2" height="66.6" fill="#5a8a46" stroke="#2f6a1c" stroke-width="1.3"/><rect x="505.0" y="605.4" width="8.2" height="78.5" fill="#5a8a46" stroke="#2f6a1c" stroke-width="1.3"/><rect x="516.3" y="608.4" width="8.2" height="75.5" fill="#5a8a46" stroke="#2f6a1c" stroke-width="1.3"/><rect x="527.5" y="614.3" width="8.2" height="69.6" fill="#cc464c" stroke="#c0242c" stroke-width="1.3"/><rect x="538.8" y="602.4" width="8.2" height="81.5" fill="#5a8a46" stroke="#2f6a1c" stroke-width="1.3"/><rect x="550.1" y="620.4" width="8.2" height="63.5" fill="#5a8a46" stroke="#2f6a1c" stroke-width="1.3"/><rect x="561.4" y="620.4" width="8.2" height="63.5" fill="#5a8a46" stroke="#2f6a1c" stroke-width="1.3"/><rect x="572.7" y="620.4" width="8.2" height="63.5" fill="#cc464c" stroke="#c0242c" stroke-width="1.3"/><rect x="584.0" y="596.5" width="8.2" height="87.4" fill="#cc464c" stroke="#c0242c" stroke-width="1.3"/><rect x="595.2" y="596.5" width="8.2" height="87.4" fill="#5a8a46" stroke="#2f6a1c" stroke-width="1.3"/><rect x="606.5" y="615.8" width="8.2" height="68.1" fill="#5a8a46" stroke="#2f6a1c" stroke-width="1.3"/><rect x="617.8" y="621.9" width="8.2" height="62.0" fill="#cc464c" stroke="#c0242c" stroke-width="1.3"/><rect x="629.1" y="595.0" width="8.2" height="88.9" fill="#5a8a46" stroke="#2f6a1c" stroke-width="1.3"/><rect x="640.4" y="581.6" width="8.2" height="102.3" fill="#5a8a46" stroke="#2f6a1c" stroke-width="1.3"/><rect x="651.7" y="606.9" width="8.2" height="77.0" fill="#cc464c" stroke="#c0242c" stroke-width="1.3"/><rect x="663.0" y="614.3" width="8.2" height="69.6" fill="#5a8a46" stroke="#2f6a1c" stroke-width="1.3"/><rect x="674.2" y="624.9" width="8.2" height="59.0" fill="#cc464c" stroke="#c0242c" stroke-width="1.3"/><rect x="685.5" y="621.9" width="8.2" height="62.0" fill="#cc464c" stroke="#c0242c" stroke-width="1.3"/><rect x="696.8" y="615.8" width="8.2" height="68.1" fill="#cc464c" stroke="#c0242c" stroke-width="1.3"/><rect x="708.1" y="632.5" width="8.2" height="51.4" fill="#5a8a46" stroke="#2f6a1c" stroke-width="1.3"/><rect x="719.4" y="600.8" width="8.2" height="83.1" fill="#5a8a46" stroke="#2f6a1c" stroke-width="1.3"/><rect x="730.7" y="610.0" width="8.2" height="73.9" fill="#cc464c" stroke="#c0242c" stroke-width="1.3"/><rect x="742.0" y="620.4" width="8.2" height="63.5" fill="#cc464c" stroke="#c0242c" stroke-width="1.3"/><rect x="753.2" y="600.8" width="8.2" height="83.1" fill="#cc464c" stroke="#c0242c" stroke-width="1.3"/><rect x="764.5" y="610.0" width="8.2" height="73.9" fill="#5a8a46" stroke="#2f6a1c" stroke-width="1.3"/><rect x="775.8" y="595.0" width="8.2" height="88.9" fill="#5a8a46" stroke="#2f6a1c" stroke-width="1.3"/><rect x="787.1" y="630.7" width="8.2" height="53.2" fill="#5a8a46" stroke="#2f6a1c" stroke-width="1.3"/><rect x="798.4" y="623.4" width="8.2" height="60.5" fill="#5a8a46" stroke="#2f6a1c" stroke-width="1.3"/><rect x="809.7" y="618.8" width="8.2" height="65.1" fill="#5a8a46" stroke="#2f6a1c" stroke-width="1.3"/><rect x="821.0" y="605.4" width="8.2" height="78.5" fill="#5a8a46" stroke="#2f6a1c" stroke-width="1.3"/><rect x="832.2" y="595.0" width="8.2" height="88.9" fill="#5a8a46" stroke="#2f6a1c" stroke-width="1.3"/><rect x="843.5" y="585.9" width="8.2" height="98.0" fill="#5a8a46" stroke="#2f6a1c" stroke-width="1.3"/><rect x="854.8" y="617.3" width="8.2" height="66.6" fill="#5a8a46" stroke="#2f6a1c" stroke-width="1.3"/><rect x="866.1" y="626.4" width="8.2" height="57.5" fill="#cc464c" stroke="#c0242c" stroke-width="1.3"/><rect x="877.4" y="621.9" width="8.2" height="62.0" fill="#5a8a46" stroke="#2f6a1c" stroke-width="1.3"/><rect x="888.7" y="621.9" width="8.2" height="62.0" fill="#cc464c" stroke="#c0242c" stroke-width="1.3"/><rect x="899.9" y="613.2" width="8.2" height="70.7" fill="#5a8a46" stroke="#2f6a1c" stroke-width="1.3"/><rect x="911.2" y="613.2" width="8.2" height="70.7" fill="#cc464c" stroke="#c0242c" stroke-width="1.3"/><rect x="922.5" y="618.9" width="8.2" height="65.0" fill="#5a8a46" stroke="#2f6a1c" stroke-width="1.3"/><rect x="933.8" y="613.2" width="8.2" height="70.7" fill="#cc464c" stroke="#c0242c" stroke-width="1.3"/><rect x="945.1" y="595.2" width="8.2" height="88.7" fill="#5a8a46" stroke="#2f6a1c" stroke-width="1.3"/><rect x="956.4" y="568.1" width="8.2" height="115.8" fill="#cc464c" stroke="#c0242c" stroke-width="1.3"/></g>
<g clip-path="url(#cM)"><line x1="20.3" y1="762.9" x2="29.1" y2="762.9" stroke="#77707e" stroke-width="1.3"/><rect x="31.1" y="761.4" width="8" height="1.8" fill="#b5a5c0" stroke="#6e5e76" stroke-width="1.2"/><rect x="42.4" y="758.1" width="8" height="5.1" fill="#b5a5c0" stroke="#6e5e76" stroke-width="1.2"/><rect x="53.7" y="755.6" width="8" height="7.6" fill="#b5a5c0" stroke="#6e5e76" stroke-width="1.2"/><rect x="65.0" y="756.9" width="8" height="6.3" fill="#b5a5c0" stroke="#6e5e76" stroke-width="1.2"/><rect x="76.2" y="756.9" width="8" height="6.3" fill="#b5a5c0" stroke="#6e5e76" stroke-width="1.2"/><rect x="87.5" y="761.4" width="8" height="1.8" fill="#b5a5c0" stroke="#6e5e76" stroke-width="1.2"/><rect x="98.8" y="763.2" width="8" height="4.6" fill="#b5a5c0" stroke="#6e5e76" stroke-width="1.2"/><rect x="110.1" y="763.2" width="8" height="4.6" fill="#b5a5c0" stroke="#6e5e76" stroke-width="1.2"/><rect x="121.4" y="763.2" width="8" height="1.3" fill="#b5a5c0" stroke="#6e5e76" stroke-width="1.2"/><rect x="132.7" y="761.4" width="8" height="1.8" fill="#b5a5c0" stroke="#6e5e76" stroke-width="1.2"/><rect x="143.9" y="759.7" width="8" height="3.5" fill="#b5a5c0" stroke="#6e5e76" stroke-width="1.2"/><rect x="155.2" y="758.1" width="8" height="5.1" fill="#b5a5c0" stroke="#6e5e76" stroke-width="1.2"/><rect x="166.5" y="758.1" width="8" height="5.1" fill="#b5a5c0" stroke="#6e5e76" stroke-width="1.2"/><rect x="177.8" y="761.4" width="8" height="1.8" fill="#b5a5c0" stroke="#6e5e76" stroke-width="1.2"/><rect x="189.1" y="763.2" width="8" height="4.6" fill="#b5a5c0" stroke="#6e5e76" stroke-width="1.2"/><rect x="200.4" y="763.2" width="8" height="4.6" fill="#b5a5c0" stroke="#6e5e76" stroke-width="1.2"/><rect x="211.7" y="763.2" width="8" height="5.8" fill="#b5a5c0" stroke="#6e5e76" stroke-width="1.2"/><rect x="222.9" y="763.2" width="8" height="2.8" fill="#b5a5c0" stroke="#6e5e76" stroke-width="1.2"/><rect x="234.2" y="761.4" width="8" height="1.8" fill="#b5a5c0" stroke="#6e5e76" stroke-width="1.2"/><rect x="245.5" y="760.2" width="8" height="3.0" fill="#b5a5c0" stroke="#6e5e76" stroke-width="1.2"/><rect x="256.8" y="756.9" width="8" height="6.3" fill="#b5a5c0" stroke="#6e5e76" stroke-width="1.2"/><rect x="268.1" y="759.7" width="8" height="3.5" fill="#b5a5c0" stroke="#6e5e76" stroke-width="1.2"/><rect x="279.4" y="761.4" width="8" height="1.8" fill="#b5a5c0" stroke="#6e5e76" stroke-width="1.2"/><line x1="290.3" y1="762.7" x2="299.1" y2="762.7" stroke="#77707e" stroke-width="1.3"/><rect x="301.9" y="763.2" width="8" height="4.6" fill="#b5a5c0" stroke="#6e5e76" stroke-width="1.2"/><rect x="313.2" y="763.2" width="8" height="2.8" fill="#b5a5c0" stroke="#6e5e76" stroke-width="1.2"/><line x1="324.1" y1="764.0" x2="332.9" y2="764.0" stroke="#77707e" stroke-width="1.3"/><rect x="335.8" y="761.9" width="8" height="1.3" fill="#b5a5c0" stroke="#6e5e76" stroke-width="1.2"/><rect x="347.1" y="761.4" width="8" height="1.8" fill="#b5a5c0" stroke="#6e5e76" stroke-width="1.2"/><rect x="358.4" y="758.4" width="8" height="4.8" fill="#b5a5c0" stroke="#6e5e76" stroke-width="1.2"/><rect x="369.7" y="756.9" width="8" height="6.3" fill="#b5a5c0" stroke="#6e5e76" stroke-width="1.2"/><rect x="380.9" y="752.6" width="8" height="10.6" fill="#b5a5c0" stroke="#6e5e76" stroke-width="1.2"/><rect x="392.2" y="750.8" width="8" height="12.4" fill="#b5a5c0" stroke="#6e5e76" stroke-width="1.2"/><rect x="403.5" y="748.0" width="8" height="15.2" fill="#b5a5c0" stroke="#6e5e76" stroke-width="1.2"/><rect x="414.8" y="746.2" width="8" height="17.0" fill="#b5a5c0" stroke="#6e5e76" stroke-width="1.2"/><rect x="426.1" y="743.2" width="8" height="20.0" fill="#b5a5c0" stroke="#6e5e76" stroke-width="1.2"/><rect x="437.4" y="746.5" width="8" height="16.7" fill="#b5a5c0" stroke="#6e5e76" stroke-width="1.2"/><rect x="448.6" y="750.8" width="8" height="12.4" fill="#b5a5c0" stroke="#6e5e76" stroke-width="1.2"/><rect x="459.9" y="750.8" width="8" height="12.4" fill="#b5a5c0" stroke="#6e5e76" stroke-width="1.2"/><rect x="471.2" y="753.8" width="8" height="9.4" fill="#b5a5c0" stroke="#6e5e76" stroke-width="1.2"/><rect x="482.5" y="755.3" width="8" height="7.9" fill="#b5a5c0" stroke="#6e5e76" stroke-width="1.2"/><rect x="493.8" y="753.8" width="8" height="9.4" fill="#b5a5c0" stroke="#6e5e76" stroke-width="1.2"/><rect x="505.1" y="752.6" width="8" height="10.6" fill="#b5a5c0" stroke="#6e5e76" stroke-width="1.2"/><rect x="516.4" y="749.3" width="8" height="13.9" fill="#b5a5c0" stroke="#6e5e76" stroke-width="1.2"/><rect x="527.6" y="750.8" width="8" height="12.4" fill="#b5a5c0" stroke="#6e5e76" stroke-width="1.2"/><rect x="538.9" y="750.8" width="8" height="12.4" fill="#b5a5c0" stroke="#6e5e76" stroke-width="1.2"/><rect x="550.2" y="750.8" width="8" height="12.4" fill="#b5a5c0" stroke="#6e5e76" stroke-width="1.2"/><rect x="561.5" y="749.3" width="8" height="13.9" fill="#b5a5c0" stroke="#6e5e76" stroke-width="1.2"/><rect x="572.8" y="750.8" width="8" height="12.4" fill="#b5a5c0" stroke="#6e5e76" stroke-width="1.2"/><rect x="584.1" y="756.9" width="8" height="6.3" fill="#b5a5c0" stroke="#6e5e76" stroke-width="1.2"/><rect x="595.4" y="756.9" width="8" height="6.3" fill="#b5a5c0" stroke="#6e5e76" stroke-width="1.2"/><rect x="606.6" y="756.9" width="8" height="6.3" fill="#b5a5c0" stroke="#6e5e76" stroke-width="1.2"/><rect x="617.9" y="758.4" width="8" height="4.8" fill="#b5a5c0" stroke="#6e5e76" stroke-width="1.2"/><rect x="629.2" y="758.4" width="8" height="4.8" fill="#b5a5c0" stroke="#6e5e76" stroke-width="1.2"/><rect x="640.5" y="756.9" width="8" height="6.3" fill="#b5a5c0" stroke="#6e5e76" stroke-width="1.2"/><rect x="651.8" y="760.2" width="8" height="3.0" fill="#b5a5c0" stroke="#6e5e76" stroke-width="1.2"/><rect x="663.1" y="761.7" width="8" height="1.5" fill="#b5a5c0" stroke="#6e5e76" stroke-width="1.2"/><line x1="673.9" y1="764.2" x2="682.7" y2="764.2" stroke="#77707e" stroke-width="1.3"/><rect x="685.6" y="763.2" width="8" height="7.3" fill="#b5a5c0" stroke="#6e5e76" stroke-width="1.2"/><rect x="696.9" y="763.2" width="8" height="13.4" fill="#b5a5c0" stroke="#6e5e76" stroke-width="1.2"/><rect x="708.2" y="763.2" width="8" height="15.0" fill="#b5a5c0" stroke="#6e5e76" stroke-width="1.2"/><rect x="719.5" y="763.2" width="8" height="16.5" fill="#b5a5c0" stroke="#6e5e76" stroke-width="1.2"/><rect x="730.8" y="763.2" width="8" height="16.5" fill="#b5a5c0" stroke="#6e5e76" stroke-width="1.2"/><rect x="742.1" y="763.2" width="8" height="18.0" fill="#b5a5c0" stroke="#6e5e76" stroke-width="1.2"/><rect x="753.3" y="763.2" width="8" height="19.5" fill="#b5a5c0" stroke="#6e5e76" stroke-width="1.2"/><rect x="764.6" y="763.2" width="8" height="19.5" fill="#b5a5c0" stroke="#6e5e76" stroke-width="1.2"/><rect x="775.9" y="763.2" width="8" height="16.5" fill="#b5a5c0" stroke="#6e5e76" stroke-width="1.2"/><rect x="787.2" y="763.2" width="8" height="15.0" fill="#b5a5c0" stroke="#6e5e76" stroke-width="1.2"/><rect x="798.5" y="763.2" width="8" height="11.9" fill="#b5a5c0" stroke="#6e5e76" stroke-width="1.2"/><rect x="809.8" y="763.2" width="8" height="7.3" fill="#b5a5c0" stroke="#6e5e76" stroke-width="1.2"/><rect x="821.1" y="763.2" width="8" height="2.8" fill="#b5a5c0" stroke="#6e5e76" stroke-width="1.2"/><rect x="832.3" y="760.2" width="8" height="3.0" fill="#b5a5c0" stroke="#6e5e76" stroke-width="1.2"/><rect x="843.6" y="753.8" width="8" height="9.4" fill="#b5a5c0" stroke="#6e5e76" stroke-width="1.2"/><rect x="854.9" y="749.3" width="8" height="13.9" fill="#b5a5c0" stroke="#6e5e76" stroke-width="1.2"/><rect x="866.2" y="749.3" width="8" height="13.9" fill="#b5a5c0" stroke="#6e5e76" stroke-width="1.2"/><rect x="877.5" y="749.3" width="8" height="13.9" fill="#b5a5c0" stroke="#6e5e76" stroke-width="1.2"/><rect x="888.8" y="750.8" width="8" height="12.4" fill="#b5a5c0" stroke="#6e5e76" stroke-width="1.2"/><rect x="900.0" y="750.6" width="8" height="12.6" fill="#b5a5c0" stroke="#6e5e76" stroke-width="1.2"/><rect x="911.3" y="750.6" width="8" height="12.6" fill="#b5a5c0" stroke="#6e5e76" stroke-width="1.2"/><rect x="922.6" y="750.6" width="8" height="12.6" fill="#b5a5c0" stroke="#6e5e76" stroke-width="1.2"/><rect x="933.9" y="751.7" width="8" height="11.5" fill="#b5a5c0" stroke="#6e5e76" stroke-width="1.2"/><rect x="945.2" y="751.7" width="8" height="11.5" fill="#b5a5c0" stroke="#6e5e76" stroke-width="1.2"/><rect x="956.5" y="753.4" width="8" height="9.8" fill="#b5a5c0" stroke="#6e5e76" stroke-width="1.2"/></g>
<polyline points="19.0,798.6 24.7,798.6 35.1,799.1 46.4,797.4 57.7,795.3 69.0,792.8 80.2,791.0 91.5,790.8 102.8,791.5 114.1,792.3 125.4,791.5 136.7,791.0 147.9,789.5 159.2,787.7 170.5,786.5 181.8,786.0 193.1,786.5 204.4,787.7 215.7,788.5 226.9,789.0 238.2,788.3 249.5,786.5 260.8,784.7 272.1,783.4 283.4,783.2 294.7,783.2 305.9,783.4 317.2,783.9 328.5,783.9 339.8,782.7 351.1,781.9 362.4,780.6 373.7,778.9 384.9,775.1 396.2,771.3 407.5,768.0 418.8,763.7 430.1,758.1 441.4,753.5 452.6,750.2 463.9,745.9 475.2,743.9 486.5,740.9 497.8,737.8 509.1,735.3 520.4,732.0 531.6,728.7 542.9,724.9 554.2,722.4 565.5,718.6 576.8,715.0 588.1,713.0 599.4,711.2 610.6,708.7 621.9,706.9 633.2,705.4 644.5,703.6 655.8,702.4 667.1,702.1 678.3,702.4 689.6,703.6 700.9,706.7 712.2,710.5 723.5,714.3 734.8,718.1 746.1,721.9 757.3,726.4 768.6,729.5 779.9,733.8 791.2,737.1 802.5,739.6 813.8,741.4 825.1,742.1 836.3,740.4 847.6,738.3 858.9,734.5 870.2,730.7 881.5,726.9 892.8,723.1 904.0,719.3 915.3,716.3 926.6,713.0 937.9,709.7 949.2,706.9 960.5,704.4" fill="none" stroke="#9c2848" stroke-width="1.3" stroke-linejoin="round" clip-path="url(#cM)" />
<polyline points="19.0,798.4 24.7,798.4 35.1,795.3 46.4,791.0 57.7,785.2 69.0,784.7 80.2,783.4 91.5,788.3 102.8,793.6 114.1,794.1 125.4,791.0 136.7,788.3 147.9,784.7 159.2,781.9 170.5,780.1 181.8,781.9 193.1,789.0 204.4,791.0 215.7,792.8 226.9,789.5 238.2,785.2 249.5,781.9 260.8,776.3 272.1,778.9 283.4,780.6 294.7,782.7 305.9,785.2 317.2,785.2 328.5,783.9 339.8,780.9 351.1,778.9 362.4,774.6 373.7,770.0 384.9,762.4 396.2,759.9 407.5,751.0 418.8,743.4 430.1,736.6 441.4,734.0 452.6,735.8 463.9,734.5 475.2,733.3 486.5,732.8 497.8,729.5 509.1,723.9 520.4,718.1 531.6,716.0 542.9,711.7 554.2,708.7 565.5,704.6 576.8,702.4 588.1,705.4 599.4,704.1 610.6,701.1 621.9,701.1 633.2,701.1 644.5,696.5 655.8,697.8 667.1,699.6 678.3,702.9 689.6,710.0 700.9,718.1 712.2,723.9 723.5,728.2 734.8,732.8 746.1,737.8 757.3,743.9 768.6,747.7 779.9,749.7 791.2,750.5 802.5,749.2 813.8,747.2 825.1,742.9 836.3,735.8 847.6,726.9 858.9,719.3 870.2,715.5 881.5,711.7 892.8,710.0 904.0,705.4 915.3,703.6 926.6,699.1 937.9,696.5 949.2,694.4 960.5,693.5" fill="none" stroke="#151515" stroke-width="2.1" stroke-linejoin="round" clip-path="url(#cM)" />
<polyline points="19.0,860.8 24.7,860.8 35.1,856.2 46.4,850.7 57.7,843.1 69.0,839.3 80.2,843.6 91.5,862.1 102.8,879.8 114.1,895.0 125.4,895.0 136.7,886.1 147.9,871.7 159.2,863.3 170.5,860.3 181.8,862.8 193.1,873.5 204.4,886.1 215.7,898.8 226.9,898.8 238.2,893.7 249.5,881.6 260.8,870.9 272.1,866.4 283.4,870.9 294.7,881.1 305.9,888.7 317.2,893.2 328.5,891.7 339.8,882.3 351.1,874.7 362.4,864.6 373.7,858.3 384.9,846.4 396.2,838.0 407.5,830.4 418.8,829.1 430.1,826.6 441.4,827.1 452.6,830.9 463.9,837.2 475.2,843.1 486.5,843.6 497.8,841.3 509.1,837.2 520.4,831.7 531.6,827.9 542.9,826.6 554.2,827.9 565.5,826.6 576.8,825.3 588.1,828.4 599.4,832.9 610.6,837.5 621.9,836.2 633.2,832.9 644.5,829.1 655.8,829.9 667.1,832.9 678.3,840.0 689.6,850.7 700.9,865.9 712.2,883.6 723.5,896.3 734.8,900.1 746.1,900.1 757.3,900.8 768.6,903.4 779.9,903.9 791.2,901.3 802.5,895.0 813.8,884.9 825.1,870.9 836.3,853.2 847.6,838.0 858.9,830.4 870.2,829.1 881.5,829.1 892.8,828.6 904.0,827.9 915.3,827.9 926.6,827.1 937.9,826.6 949.2,826.3 960.5,826.9" fill="none" stroke="#9c2848" stroke-width="1.3" stroke-linejoin="round" clip-path="url(#cS)" />
<polyline points="19.0,856.2 24.7,856.2 35.1,851.9 46.4,843.1 57.7,831.7 69.0,844.3 80.2,855.7 91.5,886.1 102.8,896.3 114.1,903.4 125.4,886.1 136.7,867.9 147.9,861.3 159.2,858.8 170.5,861.3 181.8,868.4 193.1,891.2 204.4,898.8 215.7,906.4 226.9,892.5 238.2,882.3 249.5,869.7 260.8,860.3 272.1,872.2 283.4,881.1 294.7,889.9 305.9,895.8 317.2,891.2 328.5,887.4 339.8,868.9 351.1,867.6 362.4,857.0 373.7,849.9 384.9,831.7 396.2,831.7 407.5,827.1 418.8,828.4 430.1,824.6 441.4,829.1 452.6,839.3 463.9,843.6 475.2,845.1 486.5,841.8 497.8,836.7 509.1,831.7 520.4,824.6 531.6,827.1 542.9,828.4 554.2,827.4 565.5,824.6 576.8,824.6 588.1,836.0 599.4,839.3 610.6,837.5 621.9,831.9 633.2,828.6 644.5,828.6 655.8,831.7 667.1,839.3 678.3,849.4 689.6,863.3 700.9,884.9 712.2,900.6 723.5,902.1 734.8,897.5 746.1,899.3 757.3,905.1 768.6,906.4 779.9,901.3 791.2,896.3 802.5,886.1 813.8,873.5 825.1,853.2 836.3,835.0 847.6,827.1 858.9,829.1 870.2,829.9 881.5,828.6 892.8,828.4 904.0,827.1 915.3,828.4 926.6,826.1 937.9,826.1 949.2,826.1 960.5,829.4" fill="none" stroke="#151515" stroke-width="2.1" stroke-linejoin="round" clip-path="url(#cS)" />
<rect x="19.0" y="51.0" width="1189.0" height="125.5" fill="none" stroke="#62626e" stroke-width="1.3"/>
<rect x="19.0" y="176.5" width="1189.0" height="359.5" fill="none" stroke="#62626e" stroke-width="1.3"/>
<rect x="19.0" y="557.5" width="1189.0" height="125.79999999999995" fill="none" stroke="#62626e" stroke-width="1.3"/>
<rect x="19.0" y="683.3" width="1189.0" height="125.70000000000005" fill="none" stroke="#62626e" stroke-width="1.3"/>
<rect x="19.0" y="809.0" width="1189.0" height="125.5" fill="none" stroke="#62626e" stroke-width="1.3"/>
<g><line x1="24.7" y1="536.0" x2="24.7" y2="538.0" stroke="#62626e" stroke-width="1.3"/><line x1="24.7" y1="557.5" x2="24.7" y2="555.5" stroke="#62626e" stroke-width="1.3"/><line x1="35.1" y1="536.0" x2="35.1" y2="539.5" stroke="#62626e" stroke-width="1.3"/><line x1="35.1" y1="557.5" x2="35.1" y2="554.0" stroke="#62626e" stroke-width="1.3"/><line x1="46.4" y1="536.0" x2="46.4" y2="538.0" stroke="#62626e" stroke-width="1.3"/><line x1="46.4" y1="557.5" x2="46.4" y2="555.5" stroke="#62626e" stroke-width="1.3"/><line x1="57.7" y1="536.0" x2="57.7" y2="538.0" stroke="#62626e" stroke-width="1.3"/><line x1="57.7" y1="557.5" x2="57.7" y2="555.5" stroke="#62626e" stroke-width="1.3"/><line x1="69.0" y1="536.0" x2="69.0" y2="538.0" stroke="#62626e" stroke-width="1.3"/><line x1="69.0" y1="557.5" x2="69.0" y2="555.5" stroke="#62626e" stroke-width="1.3"/><line x1="80.2" y1="536.0" x2="80.2" y2="538.0" stroke="#62626e" stroke-width="1.3"/><line x1="80.2" y1="557.5" x2="80.2" y2="555.5" stroke="#62626e" stroke-width="1.3"/><line x1="91.5" y1="536.0" x2="91.5" y2="539.5" stroke="#62626e" stroke-width="1.3"/><line x1="91.5" y1="557.5" x2="91.5" y2="554.0" stroke="#62626e" stroke-width="1.3"/><line x1="102.8" y1="536.0" x2="102.8" y2="538.0" stroke="#62626e" stroke-width="1.3"/><line x1="102.8" y1="557.5" x2="102.8" y2="555.5" stroke="#62626e" stroke-width="1.3"/><line x1="114.1" y1="536.0" x2="114.1" y2="539.5" stroke="#62626e" stroke-width="1.3"/><line x1="114.1" y1="557.5" x2="114.1" y2="554.0" stroke="#62626e" stroke-width="1.3"/><line x1="125.4" y1="536.0" x2="125.4" y2="538.0" stroke="#62626e" stroke-width="1.3"/><line x1="125.4" y1="557.5" x2="125.4" y2="555.5" stroke="#62626e" stroke-width="1.3"/><line x1="136.7" y1="536.0" x2="136.7" y2="539.5" stroke="#62626e" stroke-width="1.3"/><line x1="136.7" y1="557.5" x2="136.7" y2="554.0" stroke="#62626e" stroke-width="1.3"/><line x1="147.9" y1="536.0" x2="147.9" y2="538.0" stroke="#62626e" stroke-width="1.3"/><line x1="147.9" y1="557.5" x2="147.9" y2="555.5" stroke="#62626e" stroke-width="1.3"/><line x1="159.2" y1="536.0" x2="159.2" y2="538.0" stroke="#62626e" stroke-width="1.3"/><line x1="159.2" y1="557.5" x2="159.2" y2="555.5" stroke="#62626e" stroke-width="1.3"/><line x1="170.5" y1="536.0" x2="170.5" y2="538.0" stroke="#62626e" stroke-width="1.3"/><line x1="170.5" y1="557.5" x2="170.5" y2="555.5" stroke="#62626e" stroke-width="1.3"/><line x1="181.8" y1="536.0" x2="181.8" y2="538.0" stroke="#62626e" stroke-width="1.3"/><line x1="181.8" y1="557.5" x2="181.8" y2="555.5" stroke="#62626e" stroke-width="1.3"/><line x1="193.1" y1="536.0" x2="193.1" y2="539.5" stroke="#62626e" stroke-width="1.3"/><line x1="193.1" y1="557.5" x2="193.1" y2="554.0" stroke="#62626e" stroke-width="1.3"/><line x1="204.4" y1="536.0" x2="204.4" y2="538.0" stroke="#62626e" stroke-width="1.3"/><line x1="204.4" y1="557.5" x2="204.4" y2="555.5" stroke="#62626e" stroke-width="1.3"/><line x1="215.7" y1="536.0" x2="215.7" y2="538.0" stroke="#62626e" stroke-width="1.3"/><line x1="215.7" y1="557.5" x2="215.7" y2="555.5" stroke="#62626e" stroke-width="1.3"/><line x1="226.9" y1="536.0" x2="226.9" y2="538.0" stroke="#62626e" stroke-width="1.3"/><line x1="226.9" y1="557.5" x2="226.9" y2="555.5" stroke="#62626e" stroke-width="1.3"/><line x1="238.2" y1="536.0" x2="238.2" y2="538.0" stroke="#62626e" stroke-width="1.3"/><line x1="238.2" y1="557.5" x2="238.2" y2="555.5" stroke="#62626e" stroke-width="1.3"/><line x1="249.5" y1="536.0" x2="249.5" y2="539.5" stroke="#62626e" stroke-width="1.3"/><line x1="249.5" y1="557.5" x2="249.5" y2="554.0" stroke="#62626e" stroke-width="1.3"/><line x1="260.8" y1="536.0" x2="260.8" y2="538.0" stroke="#62626e" stroke-width="1.3"/><line x1="260.8" y1="557.5" x2="260.8" y2="555.5" stroke="#62626e" stroke-width="1.3"/><line x1="272.1" y1="536.0" x2="272.1" y2="538.0" stroke="#62626e" stroke-width="1.3"/><line x1="272.1" y1="557.5" x2="272.1" y2="555.5" stroke="#62626e" stroke-width="1.3"/><line x1="283.4" y1="536.0" x2="283.4" y2="538.0" stroke="#62626e" stroke-width="1.3"/><line x1="283.4" y1="557.5" x2="283.4" y2="555.5" stroke="#62626e" stroke-width="1.3"/><line x1="294.7" y1="536.0" x2="294.7" y2="539.5" stroke="#62626e" stroke-width="1.3"/><line x1="294.7" y1="557.5" x2="294.7" y2="554.0" stroke="#62626e" stroke-width="1.3"/><line x1="305.9" y1="536.0" x2="305.9" y2="538.0" stroke="#62626e" stroke-width="1.3"/><line x1="305.9" y1="557.5" x2="305.9" y2="555.5" stroke="#62626e" stroke-width="1.3"/><line x1="317.2" y1="536.0" x2="317.2" y2="538.0" stroke="#62626e" stroke-width="1.3"/><line x1="317.2" y1="557.5" x2="317.2" y2="555.5" stroke="#62626e" stroke-width="1.3"/><line x1="328.5" y1="536.0" x2="328.5" y2="538.0" stroke="#62626e" stroke-width="1.3"/><line x1="328.5" y1="557.5" x2="328.5" y2="555.5" stroke="#62626e" stroke-width="1.3"/><line x1="339.8" y1="536.0" x2="339.8" y2="538.0" stroke="#62626e" stroke-width="1.3"/><line x1="339.8" y1="557.5" x2="339.8" y2="555.5" stroke="#62626e" stroke-width="1.3"/><line x1="351.1" y1="536.0" x2="351.1" y2="539.5" stroke="#62626e" stroke-width="1.3"/><line x1="351.1" y1="557.5" x2="351.1" y2="554.0" stroke="#62626e" stroke-width="1.3"/><line x1="362.4" y1="536.0" x2="362.4" y2="538.0" stroke="#62626e" stroke-width="1.3"/><line x1="362.4" y1="557.5" x2="362.4" y2="555.5" stroke="#62626e" stroke-width="1.3"/><line x1="373.7" y1="536.0" x2="373.7" y2="538.0" stroke="#62626e" stroke-width="1.3"/><line x1="373.7" y1="557.5" x2="373.7" y2="555.5" stroke="#62626e" stroke-width="1.3"/><line x1="384.9" y1="536.0" x2="384.9" y2="538.0" stroke="#62626e" stroke-width="1.3"/><line x1="384.9" y1="557.5" x2="384.9" y2="555.5" stroke="#62626e" stroke-width="1.3"/><line x1="396.2" y1="536.0" x2="396.2" y2="539.5" stroke="#62626e" stroke-width="1.3"/><line x1="396.2" y1="557.5" x2="396.2" y2="554.0" stroke="#62626e" stroke-width="1.3"/><line x1="407.5" y1="536.0" x2="407.5" y2="538.0" stroke="#62626e" stroke-width="1.3"/><line x1="407.5" y1="557.5" x2="407.5" y2="555.5" stroke="#62626e" stroke-width="1.3"/><line x1="418.8" y1="536.0" x2="418.8" y2="538.0" stroke="#62626e" stroke-width="1.3"/><line x1="418.8" y1="557.5" x2="418.8" y2="555.5" stroke="#62626e" stroke-width="1.3"/><line x1="430.1" y1="536.0" x2="430.1" y2="538.0" stroke="#62626e" stroke-width="1.3"/><line x1="430.1" y1="557.5" x2="430.1" y2="555.5" stroke="#62626e" stroke-width="1.3"/><line x1="441.4" y1="536.0" x2="441.4" y2="538.0" stroke="#62626e" stroke-width="1.3"/><line x1="441.4" y1="557.5" x2="441.4" y2="555.5" stroke="#62626e" stroke-width="1.3"/><line x1="452.6" y1="536.0" x2="452.6" y2="539.5" stroke="#62626e" stroke-width="1.3"/><line x1="452.6" y1="557.5" x2="452.6" y2="554.0" stroke="#62626e" stroke-width="1.3"/><line x1="463.9" y1="536.0" x2="463.9" y2="538.0" stroke="#62626e" stroke-width="1.3"/><line x1="463.9" y1="557.5" x2="463.9" y2="555.5" stroke="#62626e" stroke-width="1.3"/><line x1="475.2" y1="536.0" x2="475.2" y2="538.0" stroke="#62626e" stroke-width="1.3"/><line x1="475.2" y1="557.5" x2="475.2" y2="555.5" stroke="#62626e" stroke-width="1.3"/><line x1="486.5" y1="536.0" x2="486.5" y2="538.0" stroke="#62626e" stroke-width="1.3"/><line x1="486.5" y1="557.5" x2="486.5" y2="555.5" stroke="#62626e" stroke-width="1.3"/><line x1="497.8" y1="536.0" x2="497.8" y2="538.0" stroke="#62626e" stroke-width="1.3"/><line x1="497.8" y1="557.5" x2="497.8" y2="555.5" stroke="#62626e" stroke-width="1.3"/><line x1="509.1" y1="536.0" x2="509.1" y2="539.5" stroke="#62626e" stroke-width="1.3"/><line x1="509.1" y1="557.5" x2="509.1" y2="554.0" stroke="#62626e" stroke-width="1.3"/><line x1="520.4" y1="536.0" x2="520.4" y2="538.0" stroke="#62626e" stroke-width="1.3"/><line x1="520.4" y1="557.5" x2="520.4" y2="555.5" stroke="#62626e" stroke-width="1.3"/><line x1="531.6" y1="536.0" x2="531.6" y2="538.0" stroke="#62626e" stroke-width="1.3"/><line x1="531.6" y1="557.5" x2="531.6" y2="555.5" stroke="#62626e" stroke-width="1.3"/><line x1="542.9" y1="536.0" x2="542.9" y2="538.0" stroke="#62626e" stroke-width="1.3"/><line x1="542.9" y1="557.5" x2="542.9" y2="555.5" stroke="#62626e" stroke-width="1.3"/><line x1="554.2" y1="536.0" x2="554.2" y2="538.0" stroke="#62626e" stroke-width="1.3"/><line x1="554.2" y1="557.5" x2="554.2" y2="555.5" stroke="#62626e" stroke-width="1.3"/><line x1="565.5" y1="536.0" x2="565.5" y2="539.5" stroke="#62626e" stroke-width="1.3"/><line x1="565.5" y1="557.5" x2="565.5" y2="554.0" stroke="#62626e" stroke-width="1.3"/><line x1="576.8" y1="536.0" x2="576.8" y2="539.5" stroke="#62626e" stroke-width="1.3"/><line x1="576.8" y1="557.5" x2="576.8" y2="554.0" stroke="#62626e" stroke-width="1.3"/><line x1="588.1" y1="536.0" x2="588.1" y2="538.0" stroke="#62626e" stroke-width="1.3"/><line x1="588.1" y1="557.5" x2="588.1" y2="555.5" stroke="#62626e" stroke-width="1.3"/><line x1="599.4" y1="536.0" x2="599.4" y2="538.0" stroke="#62626e" stroke-width="1.3"/><line x1="599.4" y1="557.5" x2="599.4" y2="555.5" stroke="#62626e" stroke-width="1.3"/><line x1="610.6" y1="536.0" x2="610.6" y2="538.0" stroke="#62626e" stroke-width="1.3"/><line x1="610.6" y1="557.5" x2="610.6" y2="555.5" stroke="#62626e" stroke-width="1.3"/><line x1="621.9" y1="536.0" x2="621.9" y2="539.5" stroke="#62626e" stroke-width="1.3"/><line x1="621.9" y1="557.5" x2="621.9" y2="554.0" stroke="#62626e" stroke-width="1.3"/><line x1="633.2" y1="536.0" x2="633.2" y2="538.0" stroke="#62626e" stroke-width="1.3"/><line x1="633.2" y1="557.5" x2="633.2" y2="555.5" stroke="#62626e" stroke-width="1.3"/><line x1="644.5" y1="536.0" x2="644.5" y2="538.0" stroke="#62626e" stroke-width="1.3"/><line x1="644.5" y1="557.5" x2="644.5" y2="555.5" stroke="#62626e" stroke-width="1.3"/><line x1="655.8" y1="536.0" x2="655.8" y2="538.0" stroke="#62626e" stroke-width="1.3"/><line x1="655.8" y1="557.5" x2="655.8" y2="555.5" stroke="#62626e" stroke-width="1.3"/><line x1="667.1" y1="536.0" x2="667.1" y2="538.0" stroke="#62626e" stroke-width="1.3"/><line x1="667.1" y1="557.5" x2="667.1" y2="555.5" stroke="#62626e" stroke-width="1.3"/><line x1="678.3" y1="536.0" x2="678.3" y2="539.5" stroke="#62626e" stroke-width="1.3"/><line x1="678.3" y1="557.5" x2="678.3" y2="554.0" stroke="#62626e" stroke-width="1.3"/><line x1="689.6" y1="536.0" x2="689.6" y2="538.0" stroke="#62626e" stroke-width="1.3"/><line x1="689.6" y1="557.5" x2="689.6" y2="555.5" stroke="#62626e" stroke-width="1.3"/><line x1="700.9" y1="536.0" x2="700.9" y2="538.0" stroke="#62626e" stroke-width="1.3"/><line x1="700.9" y1="557.5" x2="700.9" y2="555.5" stroke="#62626e" stroke-width="1.3"/><line x1="712.2" y1="536.0" x2="712.2" y2="538.0" stroke="#62626e" stroke-width="1.3"/><line x1="712.2" y1="557.5" x2="712.2" y2="555.5" stroke="#62626e" stroke-width="1.3"/><line x1="723.5" y1="536.0" x2="723.5" y2="538.0" stroke="#62626e" stroke-width="1.3"/><line x1="723.5" y1="557.5" x2="723.5" y2="555.5" stroke="#62626e" stroke-width="1.3"/><line x1="734.8" y1="536.0" x2="734.8" y2="539.5" stroke="#62626e" stroke-width="1.3"/><line x1="734.8" y1="557.5" x2="734.8" y2="554.0" stroke="#62626e" stroke-width="1.3"/><line x1="746.1" y1="536.0" x2="746.1" y2="538.0" stroke="#62626e" stroke-width="1.3"/><line x1="746.1" y1="557.5" x2="746.1" y2="555.5" stroke="#62626e" stroke-width="1.3"/><line x1="757.3" y1="536.0" x2="757.3" y2="538.0" stroke="#62626e" stroke-width="1.3"/><line x1="757.3" y1="557.5" x2="757.3" y2="555.5" stroke="#62626e" stroke-width="1.3"/><line x1="768.6" y1="536.0" x2="768.6" y2="538.0" stroke="#62626e" stroke-width="1.3"/><line x1="768.6" y1="557.5" x2="768.6" y2="555.5" stroke="#62626e" stroke-width="1.3"/><line x1="779.9" y1="536.0" x2="779.9" y2="538.0" stroke="#62626e" stroke-width="1.3"/><line x1="779.9" y1="557.5" x2="779.9" y2="555.5" stroke="#62626e" stroke-width="1.3"/><line x1="791.2" y1="536.0" x2="791.2" y2="539.5" stroke="#62626e" stroke-width="1.3"/><line x1="791.2" y1="557.5" x2="791.2" y2="554.0" stroke="#62626e" stroke-width="1.3"/><line x1="802.5" y1="536.0" x2="802.5" y2="538.0" stroke="#62626e" stroke-width="1.3"/><line x1="802.5" y1="557.5" x2="802.5" y2="555.5" stroke="#62626e" stroke-width="1.3"/><line x1="813.8" y1="536.0" x2="813.8" y2="538.0" stroke="#62626e" stroke-width="1.3"/><line x1="813.8" y1="557.5" x2="813.8" y2="555.5" stroke="#62626e" stroke-width="1.3"/><line x1="825.1" y1="536.0" x2="825.1" y2="538.0" stroke="#62626e" stroke-width="1.3"/><line x1="825.1" y1="557.5" x2="825.1" y2="555.5" stroke="#62626e" stroke-width="1.3"/><line x1="836.3" y1="536.0" x2="836.3" y2="539.5" stroke="#62626e" stroke-width="1.3"/><line x1="836.3" y1="557.5" x2="836.3" y2="554.0" stroke="#62626e" stroke-width="1.3"/><line x1="847.6" y1="536.0" x2="847.6" y2="539.5" stroke="#62626e" stroke-width="1.3"/><line x1="847.6" y1="557.5" x2="847.6" y2="554.0" stroke="#62626e" stroke-width="1.3"/><line x1="858.9" y1="536.0" x2="858.9" y2="538.0" stroke="#62626e" stroke-width="1.3"/><line x1="858.9" y1="557.5" x2="858.9" y2="555.5" stroke="#62626e" stroke-width="1.3"/><line x1="870.2" y1="536.0" x2="870.2" y2="538.0" stroke="#62626e" stroke-width="1.3"/><line x1="870.2" y1="557.5" x2="870.2" y2="555.5" stroke="#62626e" stroke-width="1.3"/><line x1="881.5" y1="536.0" x2="881.5" y2="538.0" stroke="#62626e" stroke-width="1.3"/><line x1="881.5" y1="557.5" x2="881.5" y2="555.5" stroke="#62626e" stroke-width="1.3"/><line x1="892.8" y1="536.0" x2="892.8" y2="539.5" stroke="#62626e" stroke-width="1.3"/><line x1="892.8" y1="557.5" x2="892.8" y2="554.0" stroke="#62626e" stroke-width="1.3"/><line x1="904.0" y1="536.0" x2="904.0" y2="538.0" stroke="#62626e" stroke-width="1.3"/><line x1="904.0" y1="557.5" x2="904.0" y2="555.5" stroke="#62626e" stroke-width="1.3"/><line x1="915.3" y1="536.0" x2="915.3" y2="538.0" stroke="#62626e" stroke-width="1.3"/><line x1="915.3" y1="557.5" x2="915.3" y2="555.5" stroke="#62626e" stroke-width="1.3"/><line x1="926.6" y1="536.0" x2="926.6" y2="538.0" stroke="#62626e" stroke-width="1.3"/><line x1="926.6" y1="557.5" x2="926.6" y2="555.5" stroke="#62626e" stroke-width="1.3"/><line x1="937.9" y1="536.0" x2="937.9" y2="538.0" stroke="#62626e" stroke-width="1.3"/><line x1="937.9" y1="557.5" x2="937.9" y2="555.5" stroke="#62626e" stroke-width="1.3"/><line x1="949.2" y1="536.0" x2="949.2" y2="539.5" stroke="#62626e" stroke-width="1.3"/><line x1="949.2" y1="557.5" x2="949.2" y2="554.0" stroke="#62626e" stroke-width="1.3"/><line x1="960.5" y1="536.0" x2="960.5" y2="538.0" stroke="#62626e" stroke-width="1.3"/><line x1="960.5" y1="557.5" x2="960.5" y2="555.5" stroke="#62626e" stroke-width="1.3"/><line x1="971.8" y1="536.0" x2="971.8" y2="538.0" stroke="#62626e" stroke-width="1.3"/><line x1="971.8" y1="557.5" x2="971.8" y2="555.5" stroke="#62626e" stroke-width="1.3"/><line x1="983.0" y1="536.0" x2="983.0" y2="538.0" stroke="#62626e" stroke-width="1.3"/><line x1="983.0" y1="557.5" x2="983.0" y2="555.5" stroke="#62626e" stroke-width="1.3"/><line x1="994.3" y1="536.0" x2="994.3" y2="538.0" stroke="#62626e" stroke-width="1.3"/><line x1="994.3" y1="557.5" x2="994.3" y2="555.5" stroke="#62626e" stroke-width="1.3"/><line x1="1005.6" y1="536.0" x2="1005.6" y2="539.5" stroke="#62626e" stroke-width="1.3"/><line x1="1005.6" y1="557.5" x2="1005.6" y2="554.0" stroke="#62626e" stroke-width="1.3"/><line x1="1016.9" y1="536.0" x2="1016.9" y2="538.0" stroke="#62626e" stroke-width="1.3"/><line x1="1016.9" y1="557.5" x2="1016.9" y2="555.5" stroke="#62626e" stroke-width="1.3"/><line x1="1028.2" y1="536.0" x2="1028.2" y2="538.0" stroke="#62626e" stroke-width="1.3"/><line x1="1028.2" y1="557.5" x2="1028.2" y2="555.5" stroke="#62626e" stroke-width="1.3"/><line x1="1039.5" y1="536.0" x2="1039.5" y2="538.0" stroke="#62626e" stroke-width="1.3"/><line x1="1039.5" y1="557.5" x2="1039.5" y2="555.5" stroke="#62626e" stroke-width="1.3"/><line x1="1050.8" y1="536.0" x2="1050.8" y2="538.0" stroke="#62626e" stroke-width="1.3"/><line x1="1050.8" y1="557.5" x2="1050.8" y2="555.5" stroke="#62626e" stroke-width="1.3"/><line x1="1062.0" y1="536.0" x2="1062.0" y2="539.5" stroke="#62626e" stroke-width="1.3"/><line x1="1062.0" y1="557.5" x2="1062.0" y2="554.0" stroke="#62626e" stroke-width="1.3"/><line x1="1073.3" y1="536.0" x2="1073.3" y2="538.0" stroke="#62626e" stroke-width="1.3"/><line x1="1073.3" y1="557.5" x2="1073.3" y2="555.5" stroke="#62626e" stroke-width="1.3"/><line x1="1084.6" y1="536.0" x2="1084.6" y2="538.0" stroke="#62626e" stroke-width="1.3"/><line x1="1084.6" y1="557.5" x2="1084.6" y2="555.5" stroke="#62626e" stroke-width="1.3"/><line x1="1095.9" y1="536.0" x2="1095.9" y2="538.0" stroke="#62626e" stroke-width="1.3"/><line x1="1095.9" y1="557.5" x2="1095.9" y2="555.5" stroke="#62626e" stroke-width="1.3"/><line x1="1107.2" y1="536.0" x2="1107.2" y2="538.0" stroke="#62626e" stroke-width="1.3"/><line x1="1107.2" y1="557.5" x2="1107.2" y2="555.5" stroke="#62626e" stroke-width="1.3"/><line x1="1118.5" y1="536.0" x2="1118.5" y2="539.5" stroke="#62626e" stroke-width="1.3"/><line x1="1118.5" y1="557.5" x2="1118.5" y2="554.0" stroke="#62626e" stroke-width="1.3"/><line x1="1129.7" y1="536.0" x2="1129.7" y2="538.0" stroke="#62626e" stroke-width="1.3"/><line x1="1129.7" y1="557.5" x2="1129.7" y2="555.5" stroke="#62626e" stroke-width="1.3"/><line x1="1141.0" y1="536.0" x2="1141.0" y2="538.0" stroke="#62626e" stroke-width="1.3"/><line x1="1141.0" y1="557.5" x2="1141.0" y2="555.5" stroke="#62626e" stroke-width="1.3"/><line x1="1152.3" y1="536.0" x2="1152.3" y2="538.0" stroke="#62626e" stroke-width="1.3"/><line x1="1152.3" y1="557.5" x2="1152.3" y2="555.5" stroke="#62626e" stroke-width="1.3"/><line x1="1163.6" y1="536.0" x2="1163.6" y2="538.0" stroke="#62626e" stroke-width="1.3"/><line x1="1163.6" y1="557.5" x2="1163.6" y2="555.5" stroke="#62626e" stroke-width="1.3"/><line x1="1174.9" y1="536.0" x2="1174.9" y2="539.5" stroke="#62626e" stroke-width="1.3"/><line x1="1174.9" y1="557.5" x2="1174.9" y2="554.0" stroke="#62626e" stroke-width="1.3"/><line x1="1186.2" y1="536.0" x2="1186.2" y2="538.0" stroke="#62626e" stroke-width="1.3"/><line x1="1186.2" y1="557.5" x2="1186.2" y2="555.5" stroke="#62626e" stroke-width="1.3"/><line x1="1197.5" y1="536.0" x2="1197.5" y2="538.0" stroke="#62626e" stroke-width="1.3"/><line x1="1197.5" y1="557.5" x2="1197.5" y2="555.5" stroke="#62626e" stroke-width="1.3"/></g>
<text transform="translate(34.1,552.3) scale(1.13,1)" font-family="'Liberation Sans',Arial,sans-serif" font-size="14.6" font-weight="normal" fill="#000" text-anchor="middle" xml:space="preserve">22</text>
<text transform="translate(90.5,552.3) scale(1.13,1)" font-family="'Liberation Sans',Arial,sans-serif" font-size="14.6" font-weight="normal" fill="#000" text-anchor="middle" xml:space="preserve">30</text>
<text transform="translate(116.9,552.3) scale(1.08,1)" font-family="'Liberation Sans',Arial,sans-serif" font-size="15.6" font-weight="bold" fill="#000" text-anchor="middle" xml:space="preserve">Jun</text>
<text transform="translate(135.7,552.3) scale(1.13,1)" font-family="'Liberation Sans',Arial,sans-serif" font-size="14.6" font-weight="normal" fill="#000" text-anchor="middle" xml:space="preserve">5</text>
<text transform="translate(192.1,552.3) scale(1.13,1)" font-family="'Liberation Sans',Arial,sans-serif" font-size="14.6" font-weight="normal" fill="#000" text-anchor="middle" xml:space="preserve">12</text>
<text transform="translate(248.5,552.3) scale(1.13,1)" font-family="'Liberation Sans',Arial,sans-serif" font-size="14.6" font-weight="normal" fill="#000" text-anchor="middle" xml:space="preserve">20</text>
<text transform="translate(293.7,552.3) scale(1.13,1)" font-family="'Liberation Sans',Arial,sans-serif" font-size="14.6" font-weight="normal" fill="#000" text-anchor="middle" xml:space="preserve">26</text>
<text transform="translate(351.7,552.3) scale(1.08,1)" font-family="'Liberation Sans',Arial,sans-serif" font-size="15.6" font-weight="bold" fill="#000" text-anchor="middle" xml:space="preserve">Jul</text>
<text transform="translate(395.2,552.3) scale(1.13,1)" font-family="'Liberation Sans',Arial,sans-serif" font-size="14.6" font-weight="normal" fill="#000" text-anchor="middle" xml:space="preserve">10</text>
<text transform="translate(451.6,552.3) scale(1.13,1)" font-family="'Liberation Sans',Arial,sans-serif" font-size="14.6" font-weight="normal" fill="#000" text-anchor="middle" xml:space="preserve">17</text>
<text transform="translate(508.1,552.3) scale(1.13,1)" font-family="'Liberation Sans',Arial,sans-serif" font-size="14.6" font-weight="normal" fill="#000" text-anchor="middle" xml:space="preserve">24</text>
<text transform="translate(577.4,552.3) scale(1.08,1)" font-family="'Liberation Sans',Arial,sans-serif" font-size="15.6" font-weight="bold" fill="#000" text-anchor="middle" xml:space="preserve">Aug</text>
<text transform="translate(620.9,552.3) scale(1.13,1)" font-family="'Liberation Sans',Arial,sans-serif" font-size="14.6" font-weight="normal" fill="#000" text-anchor="middle" xml:space="preserve">7</text>
<text transform="translate(677.3,552.3) scale(1.13,1)" font-family="'Liberation Sans',Arial,sans-serif" font-size="14.6" font-weight="normal" fill="#000" text-anchor="middle" xml:space="preserve">14</text>
<text transform="translate(733.8,552.3) scale(1.13,1)" font-family="'Liberation Sans',Arial,sans-serif" font-size="14.6" font-weight="normal" fill="#000" text-anchor="middle" xml:space="preserve">21</text>
<text transform="translate(790.2,552.3) scale(1.13,1)" font-family="'Liberation Sans',Arial,sans-serif" font-size="14.6" font-weight="normal" fill="#000" text-anchor="middle" xml:space="preserve">28</text>
<text transform="translate(836.9,552.3) scale(1.08,1)" font-family="'Liberation Sans',Arial,sans-serif" font-size="15.6" font-weight="bold" fill="#000" text-anchor="middle" xml:space="preserve">Sep</text>
<text transform="translate(891.8,552.3) scale(1.13,1)" font-family="'Liberation Sans',Arial,sans-serif" font-size="14.6" font-weight="normal" fill="#000" text-anchor="middle" xml:space="preserve">11</text>
<text transform="translate(948.2,552.3) scale(1.13,1)" font-family="'Liberation Sans',Arial,sans-serif" font-size="14.6" font-weight="normal" fill="#000" text-anchor="middle" xml:space="preserve">18</text>
<text transform="translate(1004.6,552.3) scale(1.13,1)" font-family="'Liberation Sans',Arial,sans-serif" font-size="14.6" font-weight="normal" fill="#000" text-anchor="middle" xml:space="preserve">25</text>
<text transform="translate(1062.6,552.3) scale(1.08,1)" font-family="'Liberation Sans',Arial,sans-serif" font-size="15.6" font-weight="bold" fill="#000" text-anchor="middle" xml:space="preserve">Oct</text>
<text transform="translate(1117.5,552.3) scale(1.13,1)" font-family="'Liberation Sans',Arial,sans-serif" font-size="14.6" font-weight="normal" fill="#000" text-anchor="middle" xml:space="preserve">9</text>
<text transform="translate(1173.9,552.3) scale(1.13,1)" font-family="'Liberation Sans',Arial,sans-serif" font-size="14.6" font-weight="normal" fill="#000" text-anchor="middle" xml:space="preserve">16</text>
<g><line x1="24.7" y1="934.5" x2="24.7" y2="936.5" stroke="#62626e" stroke-width="1.3"/><line x1="35.1" y1="934.5" x2="35.1" y2="938.0" stroke="#62626e" stroke-width="1.3"/><line x1="46.4" y1="934.5" x2="46.4" y2="936.5" stroke="#62626e" stroke-width="1.3"/><line x1="57.7" y1="934.5" x2="57.7" y2="936.5" stroke="#62626e" stroke-width="1.3"/><line x1="69.0" y1="934.5" x2="69.0" y2="936.5" stroke="#62626e" stroke-width="1.3"/><line x1="80.2" y1="934.5" x2="80.2" y2="936.5" stroke="#62626e" stroke-width="1.3"/><line x1="91.5" y1="934.5" x2="91.5" y2="938.0" stroke="#62626e" stroke-width="1.3"/><line x1="102.8" y1="934.5" x2="102.8" y2="936.5" stroke="#62626e" stroke-width="1.3"/><line x1="114.1" y1="934.5" x2="114.1" y2="938.0" stroke="#62626e" stroke-width="1.3"/><line x1="125.4" y1="934.5" x2="125.4" y2="936.5" stroke="#62626e" stroke-width="1.3"/><line x1="136.7" y1="934.5" x2="136.7" y2="938.0" stroke="#62626e" stroke-width="1.3"/><line x1="147.9" y1="934.5" x2="147.9" y2="936.5" stroke="#62626e" stroke-width="1.3"/><line x1="159.2" y1="934.5" x2="159.2" y2="936.5" stroke="#62626e" stroke-width="1.3"/><line x1="170.5" y1="934.5" x2="170.5" y2="936.5" stroke="#62626e" stroke-width="1.3"/><line x1="181.8" y1="934.5" x2="181.8" y2="936.5" stroke="#62626e" stroke-width="1.3"/><line x1="193.1" y1="934.5" x2="193.1" y2="938.0" stroke="#62626e" stroke-width="1.3"/><line x1="204.4" y1="934.5" x2="204.4" y2="936.5" stroke="#62626e" stroke-width="1.3"/><line x1="215.7" y1="934.5" x2="215.7" y2="936.5" stroke="#62626e" stroke-width="1.3"/><line x1="226.9" y1="934.5" x2="226.9" y2="936.5" stroke="#62626e" stroke-width="1.3"/><line x1="238.2" y1="934.5" x2="238.2" y2="936.5" stroke="#62626e" stroke-width="1.3"/><line x1="249.5" y1="934.5" x2="249.5" y2="938.0" stroke="#62626e" stroke-width="1.3"/><line x1="260.8" y1="934.5" x2="260.8" y2="936.5" stroke="#62626e" stroke-width="1.3"/><line x1="272.1" y1="934.5" x2="272.1" y2="936.5" stroke="#62626e" stroke-width="1.3"/><line x1="283.4" y1="934.5" x2="283.4" y2="936.5" stroke="#62626e" stroke-width="1.3"/><line x1="294.7" y1="934.5" x2="294.7" y2="938.0" stroke="#62626e" stroke-width="1.3"/><line x1="305.9" y1="934.5" x2="305.9" y2="936.5" stroke="#62626e" stroke-width="1.3"/><line x1="317.2" y1="934.5" x2="317.2" y2="936.5" stroke="#62626e" stroke-width="1.3"/><line x1="328.5" y1="934.5" x2="328.5" y2="936.5" stroke="#62626e" stroke-width="1.3"/><line x1="339.8" y1="934.5" x2="339.8" y2="936.5" stroke="#62626e" stroke-width="1.3"/><line x1="351.1" y1="934.5" x2="351.1" y2="938.0" stroke="#62626e" stroke-width="1.3"/><line x1="362.4" y1="934.5" x2="362.4" y2="936.5" stroke="#62626e" stroke-width="1.3"/><line x1="373.7" y1="934.5" x2="373.7" y2="936.5" stroke="#62626e" stroke-width="1.3"/><line x1="384.9" y1="934.5" x2="384.9" y2="936.5" stroke="#62626e" stroke-width="1.3"/><line x1="396.2" y1="934.5" x2="396.2" y2="938.0" stroke="#62626e" stroke-width="1.3"/><line x1="407.5" y1="934.5" x2="407.5" y2="936.5" stroke="#62626e" stroke-width="1.3"/><line x1="418.8" y1="934.5" x2="418.8" y2="936.5" stroke="#62626e" stroke-width="1.3"/><line x1="430.1" y1="934.5" x2="430.1" y2="936.5" stroke="#62626e" stroke-width="1.3"/><line x1="441.4" y1="934.5" x2="441.4" y2="936.5" stroke="#62626e" stroke-width="1.3"/><line x1="452.6" y1="934.5" x2="452.6" y2="938.0" stroke="#62626e" stroke-width="1.3"/><line x1="463.9" y1="934.5" x2="463.9" y2="936.5" stroke="#62626e" stroke-width="1.3"/><line x1="475.2" y1="934.5" x2="475.2" y2="936.5" stroke="#62626e" stroke-width="1.3"/><line x1="486.5" y1="934.5" x2="486.5" y2="936.5" stroke="#62626e" stroke-width="1.3"/><line x1="497.8" y1="934.5" x2="497.8" y2="936.5" stroke="#62626e" stroke-width="1.3"/><line x1="509.1" y1="934.5" x2="509.1" y2="938.0" stroke="#62626e" stroke-width="1.3"/><line x1="520.4" y1="934.5" x2="520.4" y2="936.5" stroke="#62626e" stroke-width="1.3"/><line x1="531.6" y1="934.5" x2="531.6" y2="936.5" stroke="#62626e" stroke-width="1.3"/><line x1="542.9" y1="934.5" x2="542.9" y2="936.5" stroke="#62626e" stroke-width="1.3"/><line x1="554.2" y1="934.5" x2="554.2" y2="936.5" stroke="#62626e" stroke-width="1.3"/><line x1="565.5" y1="934.5" x2="565.5" y2="938.0" stroke="#62626e" stroke-width="1.3"/><line x1="576.8" y1="934.5" x2="576.8" y2="938.0" stroke="#62626e" stroke-width="1.3"/><line x1="588.1" y1="934.5" x2="588.1" y2="936.5" stroke="#62626e" stroke-width="1.3"/><line x1="599.4" y1="934.5" x2="599.4" y2="936.5" stroke="#62626e" stroke-width="1.3"/><line x1="610.6" y1="934.5" x2="610.6" y2="936.5" stroke="#62626e" stroke-width="1.3"/><line x1="621.9" y1="934.5" x2="621.9" y2="938.0" stroke="#62626e" stroke-width="1.3"/><line x1="633.2" y1="934.5" x2="633.2" y2="936.5" stroke="#62626e" stroke-width="1.3"/><line x1="644.5" y1="934.5" x2="644.5" y2="936.5" stroke="#62626e" stroke-width="1.3"/><line x1="655.8" y1="934.5" x2="655.8" y2="936.5" stroke="#62626e" stroke-width="1.3"/><line x1="667.1" y1="934.5" x2="667.1" y2="936.5" stroke="#62626e" stroke-width="1.3"/><line x1="678.3" y1="934.5" x2="678.3" y2="938.0" stroke="#62626e" stroke-width="1.3"/><line x1="689.6" y1="934.5" x2="689.6" y2="936.5" stroke="#62626e" stroke-width="1.3"/><line x1="700.9" y1="934.5" x2="700.9" y2="936.5" stroke="#62626e" stroke-width="1.3"/><line x1="712.2" y1="934.5" x2="712.2" y2="936.5" stroke="#62626e" stroke-width="1.3"/><line x1="723.5" y1="934.5" x2="723.5" y2="936.5" stroke="#62626e" stroke-width="1.3"/><line x1="734.8" y1="934.5" x2="734.8" y2="938.0" stroke="#62626e" stroke-width="1.3"/><line x1="746.1" y1="934.5" x2="746.1" y2="936.5" stroke="#62626e" stroke-width="1.3"/><line x1="757.3" y1="934.5" x2="757.3" y2="936.5" stroke="#62626e" stroke-width="1.3"/><line x1="768.6" y1="934.5" x2="768.6" y2="936.5" stroke="#62626e" stroke-width="1.3"/><line x1="779.9" y1="934.5" x2="779.9" y2="936.5" stroke="#62626e" stroke-width="1.3"/><line x1="791.2" y1="934.5" x2="791.2" y2="938.0" stroke="#62626e" stroke-width="1.3"/><line x1="802.5" y1="934.5" x2="802.5" y2="936.5" stroke="#62626e" stroke-width="1.3"/><line x1="813.8" y1="934.5" x2="813.8" y2="936.5" stroke="#62626e" stroke-width="1.3"/><line x1="825.1" y1="934.5" x2="825.1" y2="936.5" stroke="#62626e" stroke-width="1.3"/><line x1="836.3" y1="934.5" x2="836.3" y2="938.0" stroke="#62626e" stroke-width="1.3"/><line x1="847.6" y1="934.5" x2="847.6" y2="938.0" stroke="#62626e" stroke-width="1.3"/><line x1="858.9" y1="934.5" x2="858.9" y2="936.5" stroke="#62626e" stroke-width="1.3"/><line x1="870.2" y1="934.5" x2="870.2" y2="936.5" stroke="#62626e" stroke-width="1.3"/><line x1="881.5" y1="934.5" x2="881.5" y2="936.5" stroke="#62626e" stroke-width="1.3"/><line x1="892.8" y1="934.5" x2="892.8" y2="938.0" stroke="#62626e" stroke-width="1.3"/><line x1="904.0" y1="934.5" x2="904.0" y2="936.5" stroke="#62626e" stroke-width="1.3"/><line x1="915.3" y1="934.5" x2="915.3" y2="936.5" stroke="#62626e" stroke-width="1.3"/><line x1="926.6" y1="934.5" x2="926.6" y2="936.5" stroke="#62626e" stroke-width="1.3"/><line x1="937.9" y1="934.5" x2="937.9" y2="936.5" stroke="#62626e" stroke-width="1.3"/><line x1="949.2" y1="934.5" x2="949.2" y2="938.0" stroke="#62626e" stroke-width="1.3"/><line x1="960.5" y1="934.5" x2="960.5" y2="936.5" stroke="#62626e" stroke-width="1.3"/><line x1="971.8" y1="934.5" x2="971.8" y2="936.5" stroke="#62626e" stroke-width="1.3"/><line x1="983.0" y1="934.5" x2="983.0" y2="936.5" stroke="#62626e" stroke-width="1.3"/><line x1="994.3" y1="934.5" x2="994.3" y2="936.5" stroke="#62626e" stroke-width="1.3"/><line x1="1005.6" y1="934.5" x2="1005.6" y2="938.0" stroke="#62626e" stroke-width="1.3"/><line x1="1016.9" y1="934.5" x2="1016.9" y2="936.5" stroke="#62626e" stroke-width="1.3"/><line x1="1028.2" y1="934.5" x2="1028.2" y2="936.5" stroke="#62626e" stroke-width="1.3"/><line x1="1039.5" y1="934.5" x2="1039.5" y2="936.5" stroke="#62626e" stroke-width="1.3"/><line x1="1050.8" y1="934.5" x2="1050.8" y2="936.5" stroke="#62626e" stroke-width="1.3"/><line x1="1062.0" y1="934.5" x2="1062.0" y2="938.0" stroke="#62626e" stroke-width="1.3"/><line x1="1073.3" y1="934.5" x2="1073.3" y2="936.5" stroke="#62626e" stroke-width="1.3"/><line x1="1084.6" y1="934.5" x2="1084.6" y2="936.5" stroke="#62626e" stroke-width="1.3"/><line x1="1095.9" y1="934.5" x2="1095.9" y2="936.5" stroke="#62626e" stroke-width="1.3"/><line x1="1107.2" y1="934.5" x2="1107.2" y2="936.5" stroke="#62626e" stroke-width="1.3"/><line x1="1118.5" y1="934.5" x2="1118.5" y2="938.0" stroke="#62626e" stroke-width="1.3"/><line x1="1129.7" y1="934.5" x2="1129.7" y2="936.5" stroke="#62626e" stroke-width="1.3"/><line x1="1141.0" y1="934.5" x2="1141.0" y2="936.5" stroke="#62626e" stroke-width="1.3"/><line x1="1152.3" y1="934.5" x2="1152.3" y2="936.5" stroke="#62626e" stroke-width="1.3"/><line x1="1163.6" y1="934.5" x2="1163.6" y2="936.5" stroke="#62626e" stroke-width="1.3"/><line x1="1174.9" y1="934.5" x2="1174.9" y2="938.0" stroke="#62626e" stroke-width="1.3"/><line x1="1186.2" y1="934.5" x2="1186.2" y2="936.5" stroke="#62626e" stroke-width="1.3"/><line x1="1197.5" y1="934.5" x2="1197.5" y2="936.5" stroke="#62626e" stroke-width="1.3"/></g>
<text transform="translate(34.1,949.5) scale(1.13,1)" font-family="'Liberation Sans',Arial,sans-serif" font-size="14.6" font-weight="normal" fill="#000" text-anchor="middle" xml:space="preserve">22</text>
<text transform="translate(90.5,949.5) scale(1.13,1)" font-family="'Liberation Sans',Arial,sans-serif" font-size="14.6" font-weight="normal" fill="#000" text-anchor="middle" xml:space="preserve">30</text>
<text transform="translate(116.9,949.5) scale(1.08,1)" font-family="'Liberation Sans',Arial,sans-serif" font-size="15.6" font-weight="bold" fill="#000" text-anchor="middle" xml:space="preserve">Jun</text>
<text transform="translate(135.7,949.5) scale(1.13,1)" font-family="'Liberation Sans',Arial,sans-serif" font-size="14.6" font-weight="normal" fill="#000" text-anchor="middle" xml:space="preserve">5</text>
<text transform="translate(192.1,949.5) scale(1.13,1)" font-family="'Liberation Sans',Arial,sans-serif" font-size="14.6" font-weight="normal" fill="#000" text-anchor="middle" xml:space="preserve">12</text>
<text transform="translate(248.5,949.5) scale(1.13,1)" font-family="'Liberation Sans',Arial,sans-serif" font-size="14.6" font-weight="normal" fill="#000" text-anchor="middle" xml:space="preserve">20</text>
<text transform="translate(293.7,949.5) scale(1.13,1)" font-family="'Liberation Sans',Arial,sans-serif" font-size="14.6" font-weight="normal" fill="#000" text-anchor="middle" xml:space="preserve">26</text>
<text transform="translate(351.7,949.5) scale(1.08,1)" font-family="'Liberation Sans',Arial,sans-serif" font-size="15.6" font-weight="bold" fill="#000" text-anchor="middle" xml:space="preserve">Jul</text>
<text transform="translate(395.2,949.5) scale(1.13,1)" font-family="'Liberation Sans',Arial,sans-serif" font-size="14.6" font-weight="normal" fill="#000" text-anchor="middle" xml:space="preserve">10</text>
<text transform="translate(451.6,949.5) scale(1.13,1)" font-family="'Liberation Sans',Arial,sans-serif" font-size="14.6" font-weight="normal" fill="#000" text-anchor="middle" xml:space="preserve">17</text>
<text transform="translate(508.1,949.5) scale(1.13,1)" font-family="'Liberation Sans',Arial,sans-serif" font-size="14.6" font-weight="normal" fill="#000" text-anchor="middle" xml:space="preserve">24</text>
<text transform="translate(577.4,949.5) scale(1.08,1)" font-family="'Liberation Sans',Arial,sans-serif" font-size="15.6" font-weight="bold" fill="#000" text-anchor="middle" xml:space="preserve">Aug</text>
<text transform="translate(620.9,949.5) scale(1.13,1)" font-family="'Liberation Sans',Arial,sans-serif" font-size="14.6" font-weight="normal" fill="#000" text-anchor="middle" xml:space="preserve">7</text>
<text transform="translate(677.3,949.5) scale(1.13,1)" font-family="'Liberation Sans',Arial,sans-serif" font-size="14.6" font-weight="normal" fill="#000" text-anchor="middle" xml:space="preserve">14</text>
<text transform="translate(733.8,949.5) scale(1.13,1)" font-family="'Liberation Sans',Arial,sans-serif" font-size="14.6" font-weight="normal" fill="#000" text-anchor="middle" xml:space="preserve">21</text>
<text transform="translate(790.2,949.5) scale(1.13,1)" font-family="'Liberation Sans',Arial,sans-serif" font-size="14.6" font-weight="normal" fill="#000" text-anchor="middle" xml:space="preserve">28</text>
<text transform="translate(836.9,949.5) scale(1.08,1)" font-family="'Liberation Sans',Arial,sans-serif" font-size="15.6" font-weight="bold" fill="#000" text-anchor="middle" xml:space="preserve">Sep</text>
<text transform="translate(891.8,949.5) scale(1.13,1)" font-family="'Liberation Sans',Arial,sans-serif" font-size="14.6" font-weight="normal" fill="#000" text-anchor="middle" xml:space="preserve">11</text>
<text transform="translate(948.2,949.5) scale(1.13,1)" font-family="'Liberation Sans',Arial,sans-serif" font-size="14.6" font-weight="normal" fill="#000" text-anchor="middle" xml:space="preserve">18</text>
<text transform="translate(1004.6,949.5) scale(1.13,1)" font-family="'Liberation Sans',Arial,sans-serif" font-size="14.6" font-weight="normal" fill="#000" text-anchor="middle" xml:space="preserve">25</text>
<text transform="translate(1062.6,949.5) scale(1.08,1)" font-family="'Liberation Sans',Arial,sans-serif" font-size="15.6" font-weight="bold" fill="#000" text-anchor="middle" xml:space="preserve">Oct</text>
<text transform="translate(1117.5,949.5) scale(1.13,1)" font-family="'Liberation Sans',Arial,sans-serif" font-size="14.6" font-weight="normal" fill="#000" text-anchor="middle" xml:space="preserve">9</text>
<text transform="translate(1173.9,949.5) scale(1.13,1)" font-family="'Liberation Sans',Arial,sans-serif" font-size="14.6" font-weight="normal" fill="#000" text-anchor="middle" xml:space="preserve">16</text>
<text transform="translate(1212.7,159.5) scale(1.13,1)" font-family="'Liberation Sans',Arial,sans-serif" font-size="14.3" font-weight="normal" fill="#000" text-anchor="start" xml:space="preserve">10</text>
<text transform="translate(1212.7,138.5) scale(1.13,1)" font-family="'Liberation Sans',Arial,sans-serif" font-size="14.3" font-weight="normal" fill="#000" text-anchor="start" xml:space="preserve">30</text>
<text transform="translate(1212.7,117.6) scale(1.13,1)" font-family="'Liberation Sans',Arial,sans-serif" font-size="14.3" font-weight="normal" fill="#000" text-anchor="start" xml:space="preserve">50</text>
<text transform="translate(1212.7,75.7) scale(1.13,1)" font-family="'Liberation Sans',Arial,sans-serif" font-size="14.3" font-weight="normal" fill="#000" text-anchor="start" xml:space="preserve">90</text>
<text transform="translate(1212.7,96.7) scale(1.13,1)" font-family="'Liberation Sans',Arial,sans-serif" font-size="14.3" font-weight="normal" fill="#000" text-anchor="start" xml:space="preserve">70</text>
<text transform="translate(1212.7,521.2) scale(1.13,1)" font-family="'Liberation Sans',Arial,sans-serif" font-size="14.3" font-weight="normal" fill="#000" text-anchor="start" xml:space="preserve">67.5</text>
<text transform="translate(1212.7,488.1) scale(1.13,1)" font-family="'Liberation Sans',Arial,sans-serif" font-size="14.3" font-weight="normal" fill="#000" text-anchor="start" xml:space="preserve">70.0</text>
<text transform="translate(1212.7,455.0) scale(1.13,1)" font-family="'Liberation Sans',Arial,sans-serif" font-size="14.3" font-weight="normal" fill="#000" text-anchor="start" xml:space="preserve">72.5</text>
<text transform="translate(1212.7,422.0) scale(1.13,1)" font-family="'Liberation Sans',Arial,sans-serif" font-size="14.3" font-weight="normal" fill="#000" text-anchor="start" xml:space="preserve">75.0</text>
<text transform="translate(1212.7,388.9) scale(1.13,1)" font-family="'Liberation Sans',Arial,sans-serif" font-size="14.3" font-weight="normal" fill="#000" text-anchor="start" xml:space="preserve">77.5</text>
<text transform="translate(1212.7,355.8) scale(1.13,1)" font-family="'Liberation Sans',Arial,sans-serif" font-size="14.3" font-weight="normal" fill="#000" text-anchor="start" xml:space="preserve">80.0</text>
<text transform="translate(1212.7,322.8) scale(1.13,1)" font-family="'Liberation Sans',Arial,sans-serif" font-size="14.3" font-weight="normal" fill="#000" text-anchor="start" xml:space="preserve">82.5</text>
<text transform="translate(1212.7,289.7) scale(1.13,1)" font-family="'Liberation Sans',Arial,sans-serif" font-size="14.3" font-weight="normal" fill="#000" text-anchor="start" xml:space="preserve">85.0</text>
<text transform="translate(1212.7,256.6) scale(1.13,1)" font-family="'Liberation Sans',Arial,sans-serif" font-size="14.3" font-weight="normal" fill="#000" text-anchor="start" xml:space="preserve">87.5</text>
<text transform="translate(1212.7,223.6) scale(1.13,1)" font-family="'Liberation Sans',Arial,sans-serif" font-size="14.3" font-weight="normal" fill="#000" text-anchor="start" xml:space="preserve">90.0</text>
<text transform="translate(1212.7,190.5) scale(1.13,1)" font-family="'Liberation Sans',Arial,sans-serif" font-size="14.3" font-weight="normal" fill="#000" text-anchor="start" xml:space="preserve">92.5</text>
<text transform="translate(1212.7,662.8) scale(1.13,1)" font-family="'Liberation Sans',Arial,sans-serif" font-size="14.3" font-weight="normal" fill="#000" text-anchor="start" xml:space="preserve">10M</text>
<text transform="translate(1212.7,640.4) scale(1.13,1)" font-family="'Liberation Sans',Arial,sans-serif" font-size="14.3" font-weight="normal" fill="#000" text-anchor="start" xml:space="preserve">20M</text>
<text transform="translate(1212.7,618.0) scale(1.13,1)" font-family="'Liberation Sans',Arial,sans-serif" font-size="14.3" font-weight="normal" fill="#000" text-anchor="start" xml:space="preserve">30M</text>
<text transform="translate(1212.7,595.6) scale(1.13,1)" font-family="'Liberation Sans',Arial,sans-serif" font-size="14.3" font-weight="normal" fill="#000" text-anchor="start" xml:space="preserve">40M</text>
<text transform="translate(1226.3,793.0) scale(1.13,1)" font-family="'Liberation Sans',Arial,sans-serif" font-size="14.3" font-weight="normal" fill="#000" text-anchor="end" xml:space="preserve">-1</text>
<text transform="translate(1226.3,767.6) scale(1.13,1)" font-family="'Liberation Sans',Arial,sans-serif" font-size="14.3" font-weight="normal" fill="#000" text-anchor="end" xml:space="preserve">0</text>
<text transform="translate(1226.3,742.2) scale(1.13,1)" font-family="'Liberation Sans',Arial,sans-serif" font-size="14.3" font-weight="normal" fill="#000" text-anchor="end" xml:space="preserve">1</text>
<text transform="translate(1226.3,716.8) scale(1.13,1)" font-family="'Liberation Sans',Arial,sans-serif" font-size="14.3" font-weight="normal" fill="#000" text-anchor="end" xml:space="preserve">2</text>
<text transform="translate(1226.3,691.4) scale(1.13,1)" font-family="'Liberation Sans',Arial,sans-serif" font-size="14.3" font-weight="normal" fill="#000" text-anchor="end" xml:space="preserve">3</text>
<text transform="translate(1212.7,907.1) scale(1.13,1)" font-family="'Liberation Sans',Arial,sans-serif" font-size="14.3" font-weight="normal" fill="#000" text-anchor="start" xml:space="preserve">20</text>
<text transform="translate(1212.7,875.7) scale(1.13,1)" font-family="'Liberation Sans',Arial,sans-serif" font-size="14.3" font-weight="normal" fill="#000" text-anchor="start" xml:space="preserve">50</text>
<text transform="translate(1212.7,844.3) scale(1.13,1)" font-family="'Liberation Sans',Arial,sans-serif" font-size="14.3" font-weight="normal" fill="#000" text-anchor="start" xml:space="preserve">80</text>
<g><line x1="1208.0" y1="155.7" x2="1212.0" y2="155.7" stroke="#62626e" stroke-width="1"/><line x1="1208.0" y1="134.7" x2="1212.0" y2="134.7" stroke="#62626e" stroke-width="1"/><line x1="1208.0" y1="113.8" x2="1212.0" y2="113.8" stroke="#62626e" stroke-width="1"/><line x1="1208.0" y1="92.9" x2="1212.0" y2="92.9" stroke="#62626e" stroke-width="1"/><line x1="1208.0" y1="71.9" x2="1212.0" y2="71.9" stroke="#62626e" stroke-width="1"/><line x1="1208.0" y1="524.0" x2="1210.0" y2="524.0" stroke="#62626e" stroke-width="1"/><line x1="1208.0" y1="517.4" x2="1212.0" y2="517.4" stroke="#62626e" stroke-width="1"/><line x1="1208.0" y1="510.8" x2="1210.0" y2="510.8" stroke="#62626e" stroke-width="1"/><line x1="1208.0" y1="504.1" x2="1210.0" y2="504.1" stroke="#62626e" stroke-width="1"/><line x1="1208.0" y1="497.5" x2="1210.0" y2="497.5" stroke="#62626e" stroke-width="1"/><line x1="1208.0" y1="490.9" x2="1210.0" y2="490.9" stroke="#62626e" stroke-width="1"/><line x1="1208.0" y1="484.3" x2="1212.0" y2="484.3" stroke="#62626e" stroke-width="1"/><line x1="1208.0" y1="477.7" x2="1210.0" y2="477.7" stroke="#62626e" stroke-width="1"/><line x1="1208.0" y1="471.1" x2="1210.0" y2="471.1" stroke="#62626e" stroke-width="1"/><line x1="1208.0" y1="464.5" x2="1210.0" y2="464.5" stroke="#62626e" stroke-width="1"/><line x1="1208.0" y1="457.9" x2="1210.0" y2="457.9" stroke="#62626e" stroke-width="1"/><line x1="1208.0" y1="451.2" x2="1212.0" y2="451.2" stroke="#62626e" stroke-width="1"/><line x1="1208.0" y1="444.6" x2="1210.0" y2="444.6" stroke="#62626e" stroke-width="1"/><line x1="1208.0" y1="438.0" x2="1210.0" y2="438.0" stroke="#62626e" stroke-width="1"/><line x1="1208.0" y1="431.4" x2="1210.0" y2="431.4" stroke="#62626e" stroke-width="1"/><line x1="1208.0" y1="424.8" x2="1210.0" y2="424.8" stroke="#62626e" stroke-width="1"/><line x1="1208.0" y1="418.2" x2="1212.0" y2="418.2" stroke="#62626e" stroke-width="1"/><line x1="1208.0" y1="411.6" x2="1210.0" y2="411.6" stroke="#62626e" stroke-width="1"/><line x1="1208.0" y1="404.9" x2="1210.0" y2="404.9" stroke="#62626e" stroke-width="1"/><line x1="1208.0" y1="398.3" x2="1210.0" y2="398.3" stroke="#62626e" stroke-width="1"/><line x1="1208.0" y1="391.7" x2="1210.0" y2="391.7" stroke="#62626e" stroke-width="1"/><line x1="1208.0" y1="385.1" x2="1212.0" y2="385.1" stroke="#62626e" stroke-width="1"/><line x1="1208.0" y1="378.5" x2="1210.0" y2="378.5" stroke="#62626e" stroke-width="1"/><line x1="1208.0" y1="371.9" x2="1210.0" y2="371.9" stroke="#62626e" stroke-width="1"/><line x1="1208.0" y1="365.3" x2="1210.0" y2="365.3" stroke="#62626e" stroke-width="1"/><line x1="1208.0" y1="358.6" x2="1210.0" y2="358.6" stroke="#62626e" stroke-width="1"/><line x1="1208.0" y1="352.0" x2="1212.0" y2="352.0" stroke="#62626e" stroke-width="1"/><line x1="1208.0" y1="345.4" x2="1210.0" y2="345.4" stroke="#62626e" stroke-width="1"/><line x1="1208.0" y1="338.8" x2="1210.0" y2="338.8" stroke="#62626e" stroke-width="1"/><line x1="1208.0" y1="332.2" x2="1210.0" y2="332.2" stroke="#62626e" stroke-width="1"/><line x1="1208.0" y1="325.6" x2="1210.0" y2="325.6" stroke="#62626e" stroke-width="1"/><line x1="1208.0" y1="319.0" x2="1212.0" y2="319.0" stroke="#62626e" stroke-width="1"/><line x1="1208.0" y1="312.4" x2="1210.0" y2="312.4" stroke="#62626e" stroke-width="1"/><line x1="1208.0" y1="305.7" x2="1210.0" y2="305.7" stroke="#62626e" stroke-width="1"/><line x1="1208.0" y1="299.1" x2="1210.0" y2="299.1" stroke="#62626e" stroke-width="1"/><line x1="1208.0" y1="292.5" x2="1210.0" y2="292.5" stroke="#62626e" stroke-width="1"/><line x1="1208.0" y1="285.9" x2="1212.0" y2="285.9" stroke="#62626e" stroke-width="1"/><line x1="1208.0" y1="279.3" x2="1210.0" y2="279.3" stroke="#62626e" stroke-width="1"/><line x1="1208.0" y1="272.7" x2="1210.0" y2="272.7" stroke="#62626e" stroke-width="1"/><line x1="1208.0" y1="266.1" x2="1210.0" y2="266.1" stroke="#62626e" stroke-width="1"/><line x1="1208.0" y1="259.4" x2="1210.0" y2="259.4" stroke="#62626e" stroke-width="1"/><line x1="1208.0" y1="252.8" x2="1212.0" y2="252.8" stroke="#62626e" stroke-width="1"/><line x1="1208.0" y1="246.2" x2="1210.0" y2="246.2" stroke="#62626e" stroke-width="1"/><line x1="1208.0" y1="239.6" x2="1210.0" y2="239.6" stroke="#62626e" stroke-width="1"/><line x1="1208.0" y1="233.0" x2="1210.0" y2="233.0" stroke="#62626e" stroke-width="1"/><line x1="1208.0" y1="226.4" x2="1210.0" y2="226.4" stroke="#62626e" stroke-width="1"/><line x1="1208.0" y1="219.8" x2="1212.0" y2="219.8" stroke="#62626e" stroke-width="1"/><line x1="1208.0" y1="213.2" x2="1210.0" y2="213.2" stroke="#62626e" stroke-width="1"/><line x1="1208.0" y1="206.5" x2="1210.0" y2="206.5" stroke="#62626e" stroke-width="1"/><line x1="1208.0" y1="199.9" x2="1210.0" y2="199.9" stroke="#62626e" stroke-width="1"/><line x1="1208.0" y1="193.3" x2="1210.0" y2="193.3" stroke="#62626e" stroke-width="1"/><line x1="1208.0" y1="186.7" x2="1212.0" y2="186.7" stroke="#62626e" stroke-width="1"/><line x1="1208.0" y1="180.1" x2="1210.0" y2="180.1" stroke="#62626e" stroke-width="1"/><line x1="1208.0" y1="659.0" x2="1212.0" y2="659.0" stroke="#62626e" stroke-width="1"/><line x1="1208.0" y1="636.6" x2="1212.0" y2="636.6" stroke="#62626e" stroke-width="1"/><line x1="1208.0" y1="614.2" x2="1212.0" y2="614.2" stroke="#62626e" stroke-width="1"/><line x1="1208.0" y1="591.8" x2="1212.0" y2="591.8" stroke="#62626e" stroke-width="1"/><line x1="1208.0" y1="789.2" x2="1212.0" y2="789.2" stroke="#62626e" stroke-width="1"/><line x1="1208.0" y1="763.8" x2="1212.0" y2="763.8" stroke="#62626e" stroke-width="1"/><line x1="1208.0" y1="738.4" x2="1212.0" y2="738.4" stroke="#62626e" stroke-width="1"/><line x1="1208.0" y1="713.0" x2="1212.0" y2="713.0" stroke="#62626e" stroke-width="1"/><line x1="1208.0" y1="687.6" x2="1212.0" y2="687.6" stroke="#62626e" stroke-width="1"/><line x1="1208.0" y1="903.3" x2="1212.0" y2="903.3" stroke="#62626e" stroke-width="1"/><line x1="1208.0" y1="871.9" x2="1212.0" y2="871.9" stroke="#62626e" stroke-width="1"/><line x1="1208.0" y1="840.5" x2="1212.0" y2="840.5" stroke="#62626e" stroke-width="1"/></g>
<polygon points="1204.9,86.6 1210.7,78.85 1255.0,78.85 1255.0,94.35 1210.7,94.35" fill="#f4f4fa" stroke="#2a1c38" stroke-width="1.5" stroke-linejoin="miter"/>
<text x="1211.1" y="91.8" font-family="'Liberation Sans',Arial,sans-serif" font-size="14.4" font-weight="normal" fill="#000" text-anchor="start" textLength="39.7" lengthAdjust="spacingAndGlyphs" xml:space="preserve">74.71</text>
<polygon points="1204.9,328.5 1210.7,320.75 1255.0,320.75 1255.0,336.25 1210.7,336.25" fill="#f4f4fa" stroke="#1c1c8c" stroke-width="1.8" stroke-linejoin="miter"/>
<text x="1211.1" y="333.7" font-family="'Liberation Sans',Arial,sans-serif" font-size="14.4" font-weight="normal" fill="#000" text-anchor="start" textLength="39.7" lengthAdjust="spacingAndGlyphs" xml:space="preserve">81.77</text>
<polygon points="1204.9,235.0 1210.7,227.25 1255.0,227.25 1255.0,242.75 1210.7,242.75" fill="#f4f4fa" stroke="#cc2a30" stroke-width="1.8" stroke-linejoin="miter"/>
<text x="1211.1" y="240.2" font-family="'Liberation Sans',Arial,sans-serif" font-size="14.4" font-weight="normal" fill="#000" text-anchor="start" textLength="39.7" lengthAdjust="spacingAndGlyphs" xml:space="preserve">88.78</text>
<polygon points="1204.9,213.3 1210.7,205.0 1255.0,205.0 1255.0,221.60000000000002 1210.7,221.60000000000002" fill="#f4f4fa" stroke="#000" stroke-width="1.7" stroke-linejoin="miter"/>
<text x="1211.1" y="218.8" font-family="'Liberation Serif','Times New Roman',serif" font-size="15.8" font-weight="bold" fill="#000" text-anchor="start" textLength="40.4" lengthAdjust="spacingAndGlyphs" xml:space="preserve">90.48</text>
<polygon points="1204.9,566.5 1210.7,558.75 1284,558.75 1284,574.25 1210.7,574.25" fill="#f4f4fa" stroke="#2a2a30" stroke-width="1.6" stroke-linejoin="miter"/>
<text x="1211.1" y="571.7" font-family="'Liberation Sans',Arial,sans-serif" font-size="14.4" font-weight="normal" fill="#000" text-anchor="start" textLength="71.6" lengthAdjust="spacingAndGlyphs" xml:space="preserve">50310100</text>
<polygon points="1204.9,702.7 1210.7,694.95 1255.0,694.95 1255.0,710.45 1210.7,710.45" fill="#f4f4fa" stroke="#9c2848" stroke-width="1.5" stroke-linejoin="miter"/>
<text x="1211.1" y="707.9" font-family="'Liberation Sans',Arial,sans-serif" font-size="14.4" font-weight="normal" fill="#000" text-anchor="start" textLength="39.7" lengthAdjust="spacingAndGlyphs" xml:space="preserve">2.346</text>
<polygon points="1204.9,692.5 1210.7,684.75 1255.0,684.75 1255.0,700.25 1210.7,700.25" fill="#f4f4fa" stroke="#2a1c38" stroke-width="1.5" stroke-linejoin="miter"/>
<text x="1211.1" y="697.7" font-family="'Liberation Sans',Arial,sans-serif" font-size="14.4" font-weight="normal" fill="#000" text-anchor="start" textLength="39.7" lengthAdjust="spacingAndGlyphs" xml:space="preserve">2.739</text>
<polygon points="1204.9,752.2 1210.7,744.45 1255.0,744.45 1255.0,759.95 1210.7,759.95" fill="#f4f4fa" stroke="#3a3a44" stroke-width="1.5" stroke-linejoin="miter"/>
<text x="1211.1" y="757.4" font-family="'Liberation Sans',Arial,sans-serif" font-size="14.4" font-weight="normal" fill="#000" text-anchor="start" textLength="39.7" lengthAdjust="spacingAndGlyphs" xml:space="preserve">0.394</text>
<polygon points="1204.9,826.4 1210.7,818.65 1255.0,818.65 1255.0,834.15 1210.7,834.15" fill="#f4f4fa" stroke="#9c2848" stroke-width="1.5" stroke-linejoin="miter"/>
<text x="1211.1" y="831.6" font-family="'Liberation Sans',Arial,sans-serif" font-size="14.4" font-weight="normal" fill="#000" text-anchor="start" textLength="39.7" lengthAdjust="spacingAndGlyphs" xml:space="preserve">93.43</text>
<polygon points="1204.9,829.0 1210.7,821.25 1255.0,821.25 1255.0,836.75 1210.7,836.75" fill="#f4f4fa" stroke="#2a1c38" stroke-width="1.5" stroke-linejoin="miter"/>
<text x="1211.1" y="834.2" font-family="'Liberation Sans',Arial,sans-serif" font-size="14.4" font-weight="normal" fill="#000" text-anchor="start" textLength="39.7" lengthAdjust="spacingAndGlyphs" xml:space="preserve">90.60</text>
<ellipse cx="961.4" cy="196.7" rx="25.1" ry="28.5" fill="none" stroke="#e04848" stroke-width="1.4"/>
<ellipse cx="960.9" cy="622.7" rx="35.9" ry="79" fill="none" stroke="#e04848" stroke-width="1.4"/>
<text x="405.9" y="165.3" font-family="'Liberation Sans',Arial,sans-serif" font-size="32.3" font-weight="bold" fill="#8a35f5" text-anchor="start" textLength="77.3" lengthAdjust="spacingAndGlyphs" xml:space="preserve">WTIC</text>
<text x="943.6" y="433.0" font-family="'Liberation Sans',Arial,sans-serif" font-size="32" font-weight="bold" fill="#e0242a" text-anchor="start" textLength="189.6" lengthAdjust="spacingAndGlyphs" xml:space="preserve">This is a high</text>
<text x="942.6" y="469.2" font-family="'Liberation Sans',Arial,sans-serif" font-size="32" font-weight="bold" fill="#e0242a" text-anchor="start" textLength="228.2" lengthAdjust="spacingAndGlyphs" xml:space="preserve">volume reversal</text>
<text x="925.4" y="505.2" font-family="'Liberation Sans',Arial,sans-serif" font-size="32" font-weight="bold" fill="#8a35f5" text-anchor="start" textLength="271.6" lengthAdjust="spacingAndGlyphs" xml:space="preserve">SCO is a short ETF</text>
<text x="18.9" y="28.3" font-family="'Liberation Sans',Arial,sans-serif" font-size="20.2" font-weight="bold" fill="#000" text-anchor="start" textLength="61.2" lengthAdjust="spacingAndGlyphs" stroke="#000" stroke-width="0.3" xml:space="preserve">$WTIC</text>
<text x="83.9" y="27" font-family="'Liberation Sans',Arial,sans-serif" font-size="16.3" font-weight="normal" fill="#000" text-anchor="start" textLength="316" lengthAdjust="spacingAndGlyphs" xml:space="preserve">Light Crude Oil - Continuous Contract (EOD)</text>
<text x="407.7" y="27" font-family="'DejaVu Sans',Verdana,sans-serif" font-size="12" font-weight="normal" fill="#000" text-anchor="start" textLength="32" lengthAdjust="spacingAndGlyphs" xml:space="preserve">CME</text>
<text x="18.3" y="46.5" font-family="'Liberation Sans',Arial,sans-serif" font-size="14.5" font-weight="normal" fill="#000" text-anchor="start" textLength="90" lengthAdjust="spacing" xml:space="preserve">19-Sep-2023</text>
<text x="1088.6" y="27" font-family="'Liberation Sans',Arial,sans-serif" font-size="14.5" font-weight="normal" fill="#555" text-anchor="start" textLength="119.4" lengthAdjust="spacingAndGlyphs" xml:space="preserve">StockCharts.com</text>
<circle cx="1079.5" cy="22" r="4.4" fill="none" stroke="#555" stroke-width="1.2"/><circle cx="1079.5" cy="22" r="1.7" fill="none" stroke="#555" stroke-width="1"/>
<text x="552.9" y="46.7" font-family="'Liberation Sans',Arial,sans-serif" font-size="15.6" font-weight="bold" fill="#000" text-anchor="start" textLength="43.0" lengthAdjust="spacingAndGlyphs" stroke="#000" stroke-width="0.3" xml:space="preserve">Open</text>
<text x="600.5999999999999" y="46.7" font-family="'Liberation Sans',Arial,sans-serif" font-size="13.8" font-weight="normal" fill="#000" text-anchor="start" textLength="39.9" lengthAdjust="spacingAndGlyphs" xml:space="preserve">90.97</text>
<text x="649.9" y="46.7" font-family="'Liberation Sans',Arial,sans-serif" font-size="15.6" font-weight="bold" fill="#000" text-anchor="start" textLength="36.3" lengthAdjust="spacingAndGlyphs" stroke="#000" stroke-width="0.3" xml:space="preserve">High</text>
<text x="689.8" y="46.7" font-family="'Liberation Sans',Arial,sans-serif" font-size="13.8" font-weight="normal" fill="#000" text-anchor="start" textLength="41.4" lengthAdjust="spacingAndGlyphs" xml:space="preserve">92.43</text>
<text x="740.3" y="46.7" font-family="'Liberation Sans',Arial,sans-serif" font-size="15.6" font-weight="bold" fill="#000" text-anchor="start" textLength="35.7" lengthAdjust="spacingAndGlyphs" stroke="#000" stroke-width="0.3" xml:space="preserve">Low</text>
<text x="780.1999999999999" y="46.7" font-family="'Liberation Sans',Arial,sans-serif" font-size="13.8" font-weight="normal" fill="#000" text-anchor="start" textLength="41.4" lengthAdjust="spacingAndGlyphs" xml:space="preserve">90.31</text>
<text x="829.8" y="46.7" font-family="'Liberation Sans',Arial,sans-serif" font-size="15.6" font-weight="bold" fill="#000" text-anchor="start" textLength="48.0" lengthAdjust="spacingAndGlyphs" stroke="#000" stroke-width="0.3" xml:space="preserve">Close</text>
<text x="882.5999999999999" y="46.7" font-family="'Liberation Sans',Arial,sans-serif" font-size="13.8" font-weight="normal" fill="#000" text-anchor="start" textLength="41.1" lengthAdjust="spacingAndGlyphs" xml:space="preserve">90.48</text>
<text x="932.6999999999999" y="46.7" font-family="'Liberation Sans',Arial,sans-serif" font-size="15.6" font-weight="bold" fill="#000" text-anchor="start" textLength="62.9" lengthAdjust="spacingAndGlyphs" stroke="#000" stroke-width="0.3" xml:space="preserve">Volume</text>
<text x="1000.5" y="46.7" font-family="'Liberation Sans',Arial,sans-serif" font-size="13.8" font-weight="normal" fill="#000" text-anchor="start" textLength="45.8" lengthAdjust="spacingAndGlyphs" xml:space="preserve">50.3M</text>
<text x="1055.3" y="46.7" font-family="'Liberation Sans',Arial,sans-serif" font-size="15.6" font-weight="bold" fill="#000" text-anchor="start" textLength="32.5" lengthAdjust="spacingAndGlyphs" stroke="#000" stroke-width="0.3" xml:space="preserve">Chg</text>
<text x="1092.3" y="46.7" font-family="'Liberation Sans',Arial,sans-serif" font-size="13.8" font-weight="normal" fill="#000" text-anchor="start" textLength="101.7" lengthAdjust="spacingAndGlyphs" xml:space="preserve">-0.10 (-0.11%)</text>
<polygon points="1196.6,39.4 1208,39.4 1202.3,45.5" fill="#99002e"/>
<rect x="20.5" y="53.7" width="140.0" height="16" fill="#f1f2f8"/>
<text x="40.6" y="66.2" font-family="'DejaVu Sans',Verdana,sans-serif" font-size="13.8" font-weight="normal" fill="#111" text-anchor="start" textLength="120.1" lengthAdjust="spacingAndGlyphs" stroke="#111" stroke-width="0.3" letter-spacing="0.6" xml:space="preserve">RSI(14) 74.71</text>
<path d="M23,66.3 L23,62.4 L29.3,54.2 L32.2,62.8 L35.3,57 L35.3,66.3 Z" fill="#b5a5c0"/><path d="M23,66.3 L23,62.4 L29.3,54.2 L32.2,62.8 L35.3,57 L35.3,66.3" fill="none" stroke="#1c0c2c" stroke-width="1.6" stroke-linejoin="bevel"/>
<rect x="20.5" y="179.89999999999998" width="193.0" height="16" fill="#f1f2f8"/>
<text x="40.7" y="192.39999999999998" font-family="'DejaVu Sans',Verdana,sans-serif" font-size="13.8" font-weight="normal" fill="#111" text-anchor="start" textLength="172.5" lengthAdjust="spacingAndGlyphs" stroke="#111" stroke-width="0.3" letter-spacing="0.6" xml:space="preserve">$WTIC (Daily) 90.48</text>
<g fill="#000" stroke="none"><rect x="23.9" y="180.3" width="1.3" height="10.6"/><rect x="33.3" y="180.3" width="1.3" height="12.4"/><rect x="28.7" y="184.8" width="1.3" height="7.9"/><rect x="26.6" y="184.8" width="5.4" height="6"/><rect x="22.9" y="182.2" width="3.3" height="5.4" fill="#f1f2f8" stroke="#000" stroke-width="1.4"/><rect x="32.4" y="182.2" width="3.1" height="8.2" fill="#f1f2f8" stroke="#000" stroke-width="1.4"/></g>
<rect x="20.5" y="196.0" width="108.10000000000002" height="16.4" fill="#f1f2f8"/>
<rect x="22.6" y="201.5" width="13" height="3" fill="#1c1c9c"/>
<text x="37.9" y="208.3" font-family="'Liberation Sans',Arial,sans-serif" font-size="13.9" font-weight="normal" fill="#1c1c9c" text-anchor="start" textLength="89.60000000000001" lengthAdjust="spacingAndGlyphs" stroke="#1c1c9c" stroke-width="0.25" xml:space="preserve">MA(50) 81.77</text>
<rect x="20.5" y="212.4" width="108.10000000000002" height="16.4" fill="#f1f2f8"/>
<rect x="22.6" y="217.9" width="13" height="3" fill="#cc2028"/>
<text x="37.9" y="224.70000000000002" font-family="'Liberation Sans',Arial,sans-serif" font-size="13.9" font-weight="normal" fill="#cc2028" text-anchor="start" textLength="89.60000000000001" lengthAdjust="spacingAndGlyphs" stroke="#cc2028" stroke-width="0.25" xml:space="preserve">MA(10) 88.78</text>
<rect x="20.5" y="229.0" width="92.0" height="16.4" fill="#f1f2f8"/>
<rect x="22.6" y="234.5" width="13" height="3" fill="#2f6318"/>
<text x="37.9" y="241.3" font-family="'Liberation Sans',Arial,sans-serif" font-size="13.9" font-weight="normal" fill="#2f6318" text-anchor="start" textLength="73.5" lengthAdjust="spacingAndGlyphs" stroke="#2f6318" stroke-width="0.25" xml:space="preserve">MA(0) 0.00</text>
<rect x="20.5" y="560.7" width="185.5" height="16" fill="#f1f2f8"/>
<g fill="#5a8a48" stroke="#2f6a18" stroke-width="1.3"><rect x="23.3" y="566.7" width="3" height="6"/><rect x="27.8" y="560.8" width="3" height="11.9"/><rect x="32.4" y="563.6" width="3" height="9.1"/></g>
<text x="40.1" y="573.2" font-family="'DejaVu Sans',Verdana,sans-serif" font-size="13.8" font-weight="normal" fill="#111" text-anchor="start" textLength="165.4" lengthAdjust="spacingAndGlyphs" stroke="#111" stroke-width="0.3" letter-spacing="0.6" xml:space="preserve">Volume 50,310,100</text>
<rect x="20.5" y="686.7" width="321.5" height="16" fill="#f1f2f8"/>
<rect x="22.6" y="691.4" width="13" height="3.4" fill="#111"/>
<text x="40.4" y="699.2" font-family="'DejaVu Sans',Verdana,sans-serif" font-size="13.8" font-weight="normal" fill="#111" text-anchor="start" textLength="181.5" lengthAdjust="spacingAndGlyphs" stroke="#111" stroke-width="0.3" letter-spacing="0.6" xml:space="preserve">MACD(12,26,9) 2.739</text>
<text x="221.9" y="699.2" font-family="'DejaVu Sans',Verdana,sans-serif" font-size="13.8" font-weight="normal" fill="#9c2848" text-anchor="start" textLength="60.300000000000004" lengthAdjust="spacingAndGlyphs" stroke="#9c2848" stroke-width="0.3" letter-spacing="0.6" xml:space="preserve">, 2.346</text>
<text x="283.9" y="699.2" font-family="'DejaVu Sans',Verdana,sans-serif" font-size="13.8" font-weight="normal" fill="#909098" text-anchor="start" textLength="58.0" lengthAdjust="spacingAndGlyphs" stroke="#909098" stroke-width="0.3" letter-spacing="0.6" xml:space="preserve">, 0.394</text>
<rect x="20.5" y="812.7" width="349.0" height="16" fill="#f1f2f8"/>
<rect x="22.6" y="817.4" width="13" height="3.4" fill="#111"/>
<text x="40.4" y="825.2" font-family="'DejaVu Sans',Verdana,sans-serif" font-size="13.8" font-weight="normal" fill="#111" text-anchor="start" textLength="275.20000000000005" lengthAdjust="spacingAndGlyphs" stroke="#111" stroke-width="0.3" letter-spacing="0.6" xml:space="preserve">Full STO %K(14,3) %D(3) 90.60,</text>
<text x="321.8" y="825.2" font-family="'DejaVu Sans',Verdana,sans-serif" font-size="13.8" font-weight="normal" fill="#9c2848" text-anchor="start" textLength="47.5" lengthAdjust="spacingAndGlyphs" stroke="#9c2848" stroke-width="0.3" letter-spacing="0.6" xml:space="preserve">93.43</text>
<rect x="18.2" y="935" width="111.2" height="16" fill="#d0d0d0"/>
<text x="23" y="952" font-family="'Liberation Sans',Arial,sans-serif" font-size="15" font-weight="normal" fill="#222" text-anchor="start" textLength="101.3" lengthAdjust="spacingAndGlyphs" xml:space="preserve">30 Aug Y:39.05</text>
<circle cx="1263" cy="13" r="15" fill="#4a4a4a"/><circle cx="1263" cy="13" r="13.5" fill="#333" stroke="#dcdcdc" stroke-width="1.4"/>
<path d="M1260,4.6 L1273,21.6 M1260,21.6 L1273,4.6" stroke="#ececec" stroke-width="3" fill="none"/>
</svg>
</body></html>
